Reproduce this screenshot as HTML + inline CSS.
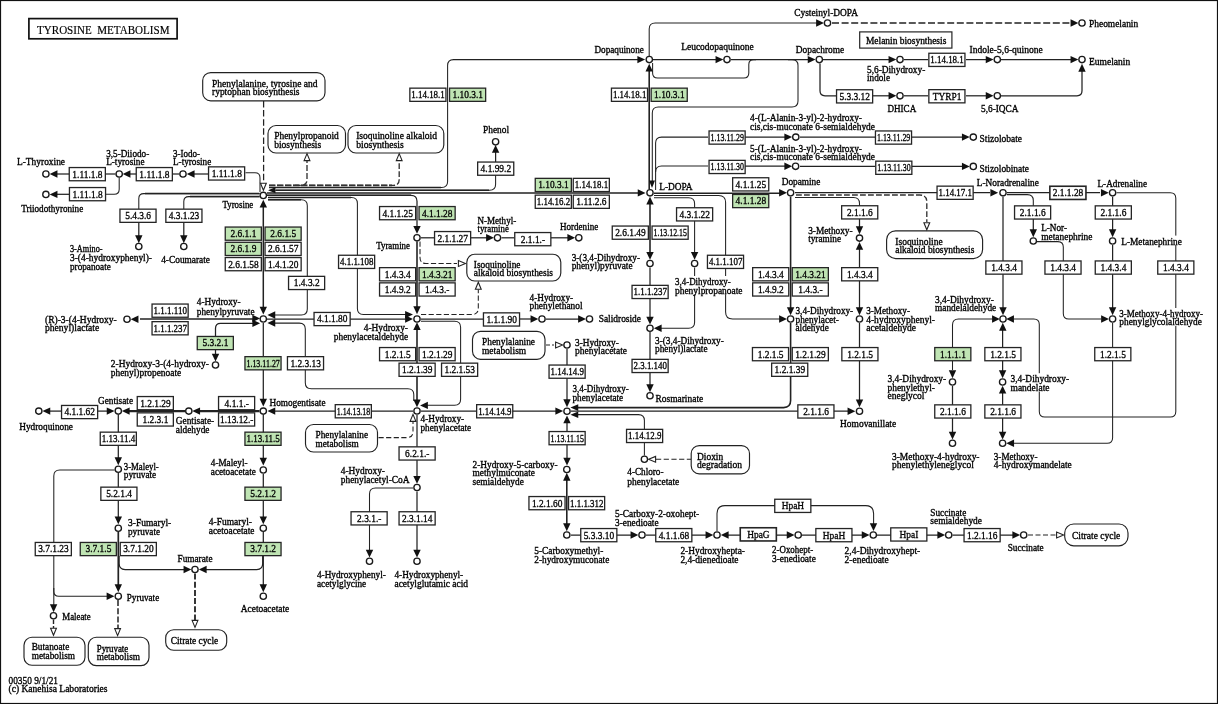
<!DOCTYPE html>
<html><head><meta charset="utf-8"><title>Tyrosine metabolism</title>
<style>html,body{margin:0;padding:0;background:#fff;}svg{display:block;}text{font-family:"Liberation Serif",serif;fill:#000;stroke:#000;stroke-width:0.34px;}</style></head><body>
<svg width="1218" height="704" viewBox="0 0 1218 704">
<rect x="0" y="0" width="1218" height="704" fill="#fff"/>
<rect x="0.5" y="0.5" width="1217" height="703" fill="none" stroke="#111" stroke-width="1.2"/>
<path d="M245.50 172.80L255.00 172.80 Q260.00 172.80 260.00 177.80L260.00 192.00" fill="none" stroke="#222" stroke-width="1.05"/>
<path d="M208.00 174.00L190.00 174.00" fill="none" stroke="#222" stroke-width="1.25"/>
<path d="M179.50 174.00L173.00 174.00" fill="none" stroke="#222" stroke-width="1.25"/>
<path d="M136.00 174.00L126.00 174.00" fill="none" stroke="#222" stroke-width="1.25"/>
<path d="M115.50 174.00L106.00 174.00" fill="none" stroke="#222" stroke-width="1.25"/>
<path d="M69.00 174.00L55.00 174.00" fill="none" stroke="#222" stroke-width="1.25"/>
<path d="M119.20 177.50L119.20 189.30 Q119.20 194.30 114.20 194.30L106.00 194.30" fill="none" stroke="#222" stroke-width="1.05"/>
<path d="M69.00 194.30L55.00 194.30" fill="none" stroke="#222" stroke-width="1.25"/>
<path d="M259.50 193.60L143.80 193.60 Q138.80 193.60 138.80 198.60L138.80 209.00" fill="none" stroke="#222" stroke-width="1.05"/>
<path d="M138.80 222.00L138.80 240.00" fill="none" stroke="#222" stroke-width="1.25"/>
<path d="M259.50 196.60L188.80 196.60 Q183.80 196.60 183.80 201.60L183.80 209.00" fill="none" stroke="#222" stroke-width="1.05"/>
<path d="M183.80 222.00L183.80 240.00" fill="none" stroke="#222" stroke-width="1.25"/>
<path d="M263.60 101.00L263.60 183.50" fill="none" stroke="#222" stroke-width="1.25" stroke-dasharray="6.5 2.6"/>
<path d="M269.00 185.40L393.20 185.40 Q399.20 185.40 399.20 179.40L399.20 161.00" fill="none" stroke="#333" stroke-width="1.35" stroke-dasharray="5.8 2.2"/>
<path d="M269.00 185.30L392.00 185.30" fill="none" stroke="#333" stroke-width="1.70" stroke-dasharray="6.5 1.5"/>
<path d="M295.00 185.40L301.00 185.40 Q307.00 185.40 307.00 179.40L307.00 161.00" fill="none" stroke="#333" stroke-width="1.35" stroke-dasharray="5.8 2.2"/>
<path d="M269.00 187.50L441.60 187.50 Q447.60 187.50 447.60 181.50L447.60 65.60 Q447.60 59.60 453.60 59.60L640.00 59.60" fill="none" stroke="#222" stroke-width="1.05"/>
<path d="M274.00 190.20L489.60 190.20 Q495.60 190.20 495.60 184.20L495.60 175.00" fill="none" stroke="#222" stroke-width="1.05"/>
<path d="M495.60 162.00L495.60 150.00" fill="none" stroke="#222" stroke-width="1.25"/>
<path d="M267.00 193.00L640.00 193.00" fill="none" stroke="#222" stroke-width="1.70"/>
<path d="M267.00 195.30L411.00 195.30 Q417.00 195.30 417.00 201.30L417.00 228.00" fill="none" stroke="#222" stroke-width="1.25"/>
<path d="M268.00 197.50L351.40 197.50 Q357.40 197.50 357.40 203.50L357.40 308.40 Q357.40 314.40 363.40 314.40L406.00 314.40" fill="none" stroke="#222" stroke-width="1.05"/>
<path d="M268.00 199.80L301.30 199.80 Q307.30 199.80 307.30 205.80L307.30 309.00 Q307.30 315.00 301.30 315.00L274.00 315.00" fill="none" stroke="#222" stroke-width="1.05"/>
<path d="M269.00 187.50L441.00 187.50" fill="none" stroke="#222" stroke-width="1.50"/>
<path d="M276.00 190.20L489.00 190.20" fill="none" stroke="#222" stroke-width="1.50"/>
<path d="M267.00 195.30L411.00 195.30" fill="none" stroke="#222" stroke-width="1.50"/>
<path d="M268.00 197.50L351.00 197.50" fill="none" stroke="#222" stroke-width="1.50"/>
<path d="M268.00 199.80L301.00 199.80" fill="none" stroke="#222" stroke-width="1.50"/>
<path d="M259.50 193.60L145.00 193.60" fill="none" stroke="#222" stroke-width="1.50"/>
<path d="M259.50 196.60L190.00 196.60" fill="none" stroke="#222" stroke-width="1.50"/>
<path d="M263.30 206.00L263.30 308.00" fill="none" stroke="#222" stroke-width="1.50"/>
<path d="M254.00 319.00L140.00 319.00" fill="none" stroke="#222" stroke-width="1.70"/>
<path d="M254.00 323.30L220.50 323.30 Q215.50 323.30 215.50 328.30L215.50 336.00" fill="none" stroke="#222" stroke-width="1.25"/>
<path d="M215.50 350.00L215.50 356.00" fill="none" stroke="#222" stroke-width="1.25"/>
<path d="M267.00 319.00L406.00 319.00" fill="none" stroke="#222" stroke-width="1.25"/>
<path d="M274.00 323.10L299.30 323.10 Q305.30 323.10 305.30 329.10L305.30 382.80 Q305.30 388.80 311.30 388.80L407.80 388.80 Q413.80 388.80 413.80 394.80L413.80 401.00" fill="none" stroke="#222" stroke-width="1.05"/>
<path d="M263.30 323.00L263.30 400.00" fill="none" stroke="#222" stroke-width="1.25"/>
<path d="M274.00 411.10L413.00 411.10" fill="none" stroke="#222" stroke-width="1.25"/>
<path d="M259.50 411.20L198.00 411.20" fill="none" stroke="#222" stroke-width="2.30"/>
<path d="M185.00 411.20L128.00 411.20" fill="none" stroke="#222" stroke-width="2.30"/>
<path d="M98.00 411.10L108.00 411.10" fill="none" stroke="#222" stroke-width="1.25"/>
<path d="M61.00 411.10L48.00 411.10" fill="none" stroke="#222" stroke-width="1.25"/>
<path d="M118.30 415.00L118.30 458.00" fill="none" stroke="#222" stroke-width="1.25"/>
<path d="M118.30 473.00L118.30 518.00" fill="none" stroke="#222" stroke-width="1.25"/>
<path d="M118.30 532.00L118.30 586.00" fill="none" stroke="#222" stroke-width="1.70"/>
<path d="M119.10 556.00L119.10 563.50 Q119.10 569.50 125.10 569.50L185.00 569.50" fill="none" stroke="#222" stroke-width="1.25"/>
<path d="M114.50 470.00L59.80 470.00 Q53.80 470.00 53.80 476.00L53.80 606.00" fill="none" stroke="#222" stroke-width="1.05"/>
<path d="M53.80 588.00L53.80 591.30 Q53.80 596.30 58.80 596.30L108.00 596.30" fill="none" stroke="#222" stroke-width="1.05"/>
<path d="M53.50 619.50L53.50 628.00" fill="none" stroke="#222" stroke-width="1.40" stroke-dasharray="4.5 2"/>
<path d="M118.00 600.00L118.00 628.50" fill="none" stroke="#222" stroke-width="1.50" stroke-dasharray="6 2.2"/>
<path d="M195.00 573.50L195.00 620.00" fill="none" stroke="#222" stroke-width="1.80" stroke-dasharray="6 2.2"/>
<path d="M263.30 415.00L263.30 459.00" fill="none" stroke="#222" stroke-width="1.25"/>
<path d="M263.30 474.00L263.30 518.00" fill="none" stroke="#222" stroke-width="1.25"/>
<path d="M263.30 532.00L263.30 586.00" fill="none" stroke="#222" stroke-width="1.25"/>
<path d="M262.70 556.00L262.70 563.50 Q262.70 569.50 256.70 569.50L205.00 569.50" fill="none" stroke="#222" stroke-width="1.25"/>
<path d="M421.00 237.80L434.00 237.80" fill="none" stroke="#222" stroke-width="1.25"/>
<path d="M471.00 237.80L488.00 237.80" fill="none" stroke="#222" stroke-width="1.25"/>
<path d="M501.50 237.80L514.00 237.80" fill="none" stroke="#222" stroke-width="1.25"/>
<path d="M551.00 237.80L568.00 237.80" fill="none" stroke="#222" stroke-width="1.25"/>
<path d="M420.00 241.50L420.00 257.50 Q420.00 263.50 426.00 263.50L457.00 263.50" fill="none" stroke="#222" stroke-width="1.05" stroke-dasharray="5.2 2.4"/>
<path d="M421.00 314.40L472.30 314.40 Q478.30 314.40 478.30 308.40L478.30 289.50" fill="none" stroke="#222" stroke-width="1.05" stroke-dasharray="5.2 2.4"/>
<path d="M417.00 241.50L417.00 308.00" fill="none" stroke="#222" stroke-width="1.60"/>
<path d="M421.00 319.00L483.00 319.00" fill="none" stroke="#222" stroke-width="1.25"/>
<path d="M520.00 319.00L532.00 319.00" fill="none" stroke="#222" stroke-width="1.25"/>
<path d="M546.00 319.00L580.00 319.00" fill="none" stroke="#222" stroke-width="1.25"/>
<path d="M417.00 330.00L417.00 400.00" fill="none" stroke="#222" stroke-width="1.60"/>
<path d="M421.00 321.30L454.60 321.30 Q460.60 321.30 460.60 327.30L460.60 399.20 Q460.60 405.20 454.60 405.20L427.00 405.20" fill="none" stroke="#222" stroke-width="1.05"/>
<path d="M378.50 437.60L407.00 437.60 Q413.00 437.60 413.00 431.60L413.00 421.50" fill="none" stroke="#222" stroke-width="1.05" stroke-dasharray="5.2 2.4"/>
<path d="M421.00 411.00L556.00 411.00" fill="none" stroke="#222" stroke-width="1.25"/>
<path d="M417.00 415.00L417.00 477.00" fill="none" stroke="#222" stroke-width="1.25"/>
<path d="M417.00 491.50L417.00 551.00" fill="none" stroke="#222" stroke-width="1.25"/>
<path d="M413.00 488.00L375.50 488.00 Q369.50 488.00 369.50 494.00L369.50 551.00" fill="none" stroke="#222" stroke-width="1.05"/>
<path d="M546.00 345.00L554.00 345.00" fill="none" stroke="#222" stroke-width="1.20" stroke-dasharray="4 2"/>
<path d="M567.00 349.00L567.00 400.00" fill="none" stroke="#222" stroke-width="1.25"/>
<path d="M790.60 323.00L790.60 400.60 Q790.60 407.60 783.60 407.60L578.00 407.60" fill="none" stroke="#222" stroke-width="1.60"/>
<path d="M571.00 411.20L848.00 411.20" fill="none" stroke="#222" stroke-width="1.25"/>
<path d="M578.00 414.60L638.40 414.60 Q644.40 414.60 644.40 420.60L644.40 455.50" fill="none" stroke="#222" stroke-width="1.05"/>
<path d="M656.00 459.30L691.00 459.30" fill="none" stroke="#222" stroke-width="1.05" stroke-dasharray="5.2 2.5"/>
<path d="M567.00 423.00L567.00 458.00" fill="none" stroke="#222" stroke-width="1.25"/>
<path d="M566.80 480.00L566.80 524.00" fill="none" stroke="#222" stroke-width="1.60"/>
<path d="M571.00 535.00L632.00 535.00" fill="none" stroke="#222" stroke-width="1.25"/>
<path d="M646.00 535.00L707.00 535.00" fill="none" stroke="#222" stroke-width="1.25"/>
<path d="M727.00 535.00L788.00 535.00" fill="none" stroke="#222" stroke-width="1.25"/>
<path d="M802.00 535.00L863.00 535.00" fill="none" stroke="#222" stroke-width="1.25"/>
<path d="M717.00 531.00L717.00 513.60 Q717.00 505.60 725.00 505.60L865.60 505.60 Q873.60 505.60 873.60 513.60L873.60 524.00" fill="none" stroke="#222" stroke-width="1.05"/>
<path d="M877.00 535.00L939.00 535.00" fill="none" stroke="#222" stroke-width="1.25"/>
<path d="M952.50 535.00L1013.00 535.00" fill="none" stroke="#222" stroke-width="1.25"/>
<path d="M1028.00 535.00L1056.00 535.00" fill="none" stroke="#222" stroke-width="1.20" stroke-dasharray="5 2.5"/>
<path d="M649.20 189.00L649.20 70.00" fill="none" stroke="#222" stroke-width="1.60"/>
<path d="M653.00 59.60L716.00 59.60" fill="none" stroke="#222" stroke-width="1.25"/>
<path d="M731.00 59.60L808.00 59.60" fill="none" stroke="#222" stroke-width="1.25"/>
<path d="M823.00 59.60L889.00 59.60" fill="none" stroke="#222" stroke-width="1.25"/>
<path d="M904.00 59.60L928.00 59.60" fill="none" stroke="#222" stroke-width="1.25"/>
<path d="M966.00 59.60L986.00 59.60" fill="none" stroke="#222" stroke-width="1.25"/>
<path d="M1001.00 59.60L1071.00 59.60" fill="none" stroke="#222" stroke-width="1.25"/>
<path d="M649.20 56.00L649.20 29.00 Q649.20 23.00 655.20 23.00L817.00 23.00" fill="none" stroke="#222" stroke-width="1.05"/>
<path d="M832.00 23.00L1071.00 23.00" fill="none" stroke="#222" stroke-width="1.30" stroke-dasharray="7 2.6"/>
<path d="M652.60 63.00L652.60 73.00 Q652.60 78.00 657.60 78.00L743.80 78.00 Q748.80 78.00 748.80 73.00L748.80 64.60 Q748.80 59.60 753.80 59.60L756.00 59.60" fill="none" stroke="#222" stroke-width="1.05"/>
<path d="M788.00 59.60L792.00 59.60 Q798.00 59.60 798.00 65.60L798.00 101.00 Q798.00 107.00 792.00 107.00L658.30 107.00 Q652.30 107.00 652.30 113.00L652.30 181.00" fill="none" stroke="#222" stroke-width="1.05"/>
<path d="M820.00 63.50L820.00 90.80 Q820.00 95.80 825.00 95.80L836.00 95.80" fill="none" stroke="#222" stroke-width="1.25"/>
<path d="M873.00 95.80L889.00 95.80" fill="none" stroke="#222" stroke-width="1.25"/>
<path d="M904.00 95.80L928.00 95.80" fill="none" stroke="#222" stroke-width="1.25"/>
<path d="M966.00 95.80L986.00 95.80" fill="none" stroke="#222" stroke-width="1.25"/>
<path d="M1001.00 95.80L1077.00 95.80 Q1082.00 95.80 1082.00 90.80L1082.00 71.00" fill="none" stroke="#222" stroke-width="1.25"/>
<path d="M655.60 190.00L655.60 143.10 Q655.60 137.10 661.60 137.10L708.00 137.10" fill="none" stroke="#222" stroke-width="1.05"/>
<path d="M655.60 172.00L655.60 172.00 Q655.60 166.00 661.60 166.00L708.00 166.00" fill="none" stroke="#222" stroke-width="1.05"/>
<path d="M745.00 137.10L785.00 137.10" fill="none" stroke="#222" stroke-width="1.25"/>
<path d="M800.00 137.10L875.00 137.10" fill="none" stroke="#222" stroke-width="1.25"/>
<path d="M912.00 137.10L962.00 137.10" fill="none" stroke="#222" stroke-width="1.25"/>
<path d="M745.00 166.20L785.00 166.20" fill="none" stroke="#222" stroke-width="1.25"/>
<path d="M800.00 166.30L875.00 166.30" fill="none" stroke="#222" stroke-width="1.25"/>
<path d="M912.00 166.30L962.00 166.30" fill="none" stroke="#222" stroke-width="1.25"/>
<path d="M654.00 193.20L780.00 193.20" fill="none" stroke="#222" stroke-width="1.60"/>
<path d="M654.00 195.40L718.60 195.40 Q725.60 195.40 725.60 202.40L725.60 312.00 Q725.60 319.00 732.60 319.00L780.00 319.00" fill="none" stroke="#222" stroke-width="1.05"/>
<path d="M654.00 197.80L688.60 197.80 Q694.60 197.80 694.60 203.80L694.60 253.00" fill="none" stroke="#222" stroke-width="1.05"/>
<path d="M694.60 267.50L694.60 322.20 Q694.60 328.20 688.60 328.20L661.00 328.20" fill="none" stroke="#222" stroke-width="1.05"/>
<path d="M650.00 204.00L650.00 252.00" fill="none" stroke="#222" stroke-width="1.60"/>
<path d="M650.00 267.50L650.00 317.00" fill="none" stroke="#222" stroke-width="1.25"/>
<path d="M650.00 332.00L650.00 385.00" fill="none" stroke="#222" stroke-width="1.25"/>
<path d="M790.60 197.00L790.60 308.00" fill="none" stroke="#222" stroke-width="1.60"/>
<path d="M795.00 192.50L990.00 192.50" fill="none" stroke="#222" stroke-width="1.25"/>
<path d="M796.00 195.00L919.80 195.00 Q926.80 195.00 926.80 202.00L926.80 222.00" fill="none" stroke="#333" stroke-width="1.35" stroke-dasharray="5.8 2.2"/>
<path d="M795.00 197.40L853.50 197.40 Q859.50 197.40 859.50 203.40L859.50 206.00" fill="none" stroke="#222" stroke-width="1.05"/>
<path d="M859.50 219.00L859.50 227.00" fill="none" stroke="#222" stroke-width="1.25"/>
<path d="M859.50 249.00L859.50 308.00" fill="none" stroke="#222" stroke-width="1.25"/>
<path d="M859.50 323.00L859.50 400.00" fill="none" stroke="#222" stroke-width="1.25"/>
<path d="M1007.00 192.60L1100.00 192.60" fill="none" stroke="#222" stroke-width="1.40"/>
<path d="M1007.00 194.60L1027.30 194.60 Q1033.30 194.60 1033.30 200.60L1033.30 206.00" fill="none" stroke="#222" stroke-width="1.05"/>
<path d="M1033.30 219.00L1033.30 230.00" fill="none" stroke="#222" stroke-width="1.25"/>
<path d="M1037.00 241.60L1057.80 241.60 Q1063.30 241.60 1063.30 247.10L1063.30 313.50 Q1063.30 319.00 1068.80 319.00L1101.00 319.00" fill="none" stroke="#222" stroke-width="1.05"/>
<path d="M1112.60 197.00L1112.60 230.00" fill="none" stroke="#222" stroke-width="1.25"/>
<path d="M1112.60 245.00L1112.60 308.00" fill="none" stroke="#222" stroke-width="1.25"/>
<path d="M1112.60 323.00L1112.60 437.80 Q1112.60 443.30 1107.10 443.30L1013.00 443.30" fill="none" stroke="#222" stroke-width="1.05"/>
<path d="M1116.50 192.80L1170.30 192.80 Q1175.80 192.80 1175.80 198.30L1175.80 411.50 Q1175.80 417.00 1170.30 417.00L1044.80 417.00 Q1039.30 417.00 1039.30 411.50L1039.30 324.50 Q1039.30 319.00 1033.80 319.00L1014.00 319.00" fill="none" stroke="#222" stroke-width="1.05"/>
<path d="M1003.00 197.00L1003.00 308.00" fill="none" stroke="#222" stroke-width="1.25"/>
<path d="M992.00 319.00L958.50 319.00 Q952.50 319.00 952.50 325.00L952.50 370.00" fill="none" stroke="#222" stroke-width="1.05"/>
<path d="M952.50 386.00L952.50 432.00" fill="none" stroke="#222" stroke-width="1.25"/>
<path d="M1002.60 330.00L1002.60 371.00" fill="none" stroke="#222" stroke-width="1.25"/>
<path d="M1002.60 393.00L1002.60 432.00" fill="none" stroke="#222" stroke-width="1.25"/>
<rect x="16.60" y="155.70" width="48.80" height="9.5" fill="#fff"/>
<rect x="105.80" y="147.80" width="43.80" height="9.5" fill="#fff"/>
<rect x="105.80" y="156.50" width="39.10" height="9.5" fill="#fff"/>
<rect x="172.60" y="147.80" width="27.80" height="9.5" fill="#fff"/>
<rect x="172.60" y="156.50" width="39.00" height="9.5" fill="#fff"/>
<rect x="20.80" y="203.20" width="62.80" height="9.5" fill="#fff"/>
<rect x="222.10" y="199.00" width="31.50" height="9.5" fill="#fff"/>
<rect x="69.60" y="242.80" width="33.30" height="9.5" fill="#fff"/>
<rect x="69.60" y="252.00" width="82.80" height="9.5" fill="#fff"/>
<rect x="69.60" y="260.80" width="41.60" height="9.5" fill="#fff"/>
<rect x="160.80" y="253.80" width="49.60" height="9.5" fill="#fff"/>
<rect x="211.60" y="77.70" width="106.30" height="9.5" fill="#fff"/>
<rect x="211.60" y="86.30" width="88.30" height="9.5" fill="#fff"/>
<rect x="273.80" y="130.30" width="65.40" height="9.5" fill="#fff"/>
<rect x="273.80" y="139.40" width="47.80" height="9.5" fill="#fff"/>
<rect x="355.80" y="130.30" width="81.60" height="9.5" fill="#fff"/>
<rect x="355.80" y="139.40" width="48.40" height="9.5" fill="#fff"/>
<rect x="482.60" y="124.50" width="26.80" height="9.5" fill="#fff"/>
<rect x="196.40" y="296.30" width="44.50" height="9.5" fill="#fff"/>
<rect x="196.40" y="305.60" width="58.50" height="9.5" fill="#fff"/>
<rect x="44.60" y="313.80" width="72.60" height="9.5" fill="#fff"/>
<rect x="44.60" y="322.50" width="55.00" height="9.5" fill="#fff"/>
<rect x="110.40" y="358.30" width="98.80" height="9.5" fill="#fff"/>
<rect x="110.40" y="367.00" width="71.20" height="9.5" fill="#fff"/>
<rect x="269.10" y="396.60" width="56.80" height="9.5" fill="#fff"/>
<rect x="97.60" y="395.00" width="35.80" height="9.5" fill="#fff"/>
<rect x="18.80" y="420.70" width="54.60" height="9.5" fill="#fff"/>
<rect x="175.40" y="415.30" width="39.20" height="9.5" fill="#fff"/>
<rect x="175.40" y="424.40" width="34.50" height="9.5" fill="#fff"/>
<rect x="123.40" y="460.70" width="35.80" height="9.5" fill="#fff"/>
<rect x="123.40" y="469.50" width="33.20" height="9.5" fill="#fff"/>
<rect x="127.60" y="517.00" width="44.00" height="9.5" fill="#fff"/>
<rect x="127.60" y="526.20" width="32.80" height="9.5" fill="#fff"/>
<rect x="126.40" y="592.00" width="33.20" height="9.5" fill="#fff"/>
<rect x="177.10" y="552.70" width="35.80" height="9.5" fill="#fff"/>
<rect x="61.90" y="611.00" width="29.20" height="9.5" fill="#fff"/>
<rect x="31.30" y="641.00" width="38.40" height="9.5" fill="#fff"/>
<rect x="31.30" y="650.20" width="44.10" height="9.5" fill="#fff"/>
<rect x="96.30" y="642.60" width="32.40" height="9.5" fill="#fff"/>
<rect x="96.30" y="651.00" width="44.10" height="9.5" fill="#fff"/>
<rect x="170.30" y="635.00" width="48.40" height="9.5" fill="#fff"/>
<rect x="210.40" y="457.00" width="37.50" height="9.5" fill="#fff"/>
<rect x="210.40" y="465.70" width="45.80" height="9.5" fill="#fff"/>
<rect x="208.40" y="515.70" width="44.00" height="9.5" fill="#fff"/>
<rect x="208.40" y="525.00" width="46.50" height="9.5" fill="#fff"/>
<rect x="240.40" y="603.20" width="49.20" height="9.5" fill="#fff"/>
<rect x="8.10" y="683.50" width="99.80" height="9.5" fill="#fff"/>
<rect x="375.80" y="240.00" width="34.60" height="9.5" fill="#fff"/>
<rect x="477.10" y="215.40" width="39.50" height="9.5" fill="#fff"/>
<rect x="477.10" y="223.00" width="32.10" height="9.5" fill="#fff"/>
<rect x="559.60" y="220.80" width="39.00" height="9.5" fill="#fff"/>
<rect x="473.40" y="258.70" width="47.50" height="9.5" fill="#fff"/>
<rect x="473.40" y="267.20" width="80.00" height="9.5" fill="#fff"/>
<rect x="363.40" y="322.10" width="45.00" height="9.5" fill="#fff"/>
<rect x="333.40" y="331.20" width="75.20" height="9.5" fill="#fff"/>
<rect x="529.10" y="292.20" width="44.50" height="9.5" fill="#fff"/>
<rect x="529.10" y="300.50" width="53.80" height="9.5" fill="#fff"/>
<rect x="598.30" y="313.00" width="43.10" height="9.5" fill="#fff"/>
<rect x="420.10" y="413.20" width="44.50" height="9.5" fill="#fff"/>
<rect x="420.10" y="422.40" width="51.50" height="9.5" fill="#fff"/>
<rect x="315.10" y="429.50" width="53.30" height="9.5" fill="#fff"/>
<rect x="315.10" y="438.20" width="44.10" height="9.5" fill="#fff"/>
<rect x="340.40" y="465.20" width="45.00" height="9.5" fill="#fff"/>
<rect x="340.40" y="474.00" width="69.50" height="9.5" fill="#fff"/>
<rect x="316.60" y="569.50" width="69.60" height="9.5" fill="#fff"/>
<rect x="316.60" y="578.20" width="50.00" height="9.5" fill="#fff"/>
<rect x="394.10" y="569.50" width="69.50" height="9.5" fill="#fff"/>
<rect x="394.10" y="578.20" width="74.30" height="9.5" fill="#fff"/>
<rect x="481.60" y="335.70" width="53.80" height="9.5" fill="#fff"/>
<rect x="481.60" y="345.00" width="45.00" height="9.5" fill="#fff"/>
<rect x="574.60" y="337.00" width="44.60" height="9.5" fill="#fff"/>
<rect x="574.60" y="345.20" width="52.80" height="9.5" fill="#fff"/>
<rect x="572.10" y="383.20" width="57.10" height="9.5" fill="#fff"/>
<rect x="572.10" y="392.00" width="51.50" height="9.5" fill="#fff"/>
<rect x="696.60" y="450.70" width="27.00" height="9.5" fill="#fff"/>
<rect x="696.60" y="459.00" width="45.80" height="9.5" fill="#fff"/>
<rect x="626.90" y="466.50" width="37.00" height="9.5" fill="#fff"/>
<rect x="626.90" y="476.00" width="52.80" height="9.5" fill="#fff"/>
<rect x="472.10" y="458.70" width="85.80" height="9.5" fill="#fff"/>
<rect x="472.10" y="467.50" width="63.30" height="9.5" fill="#fff"/>
<rect x="472.10" y="476.30" width="52.10" height="9.5" fill="#fff"/>
<rect x="533.90" y="545.50" width="69.80" height="9.5" fill="#fff"/>
<rect x="533.90" y="554.20" width="75.80" height="9.5" fill="#fff"/>
<rect x="614.60" y="508.40" width="85.00" height="9.5" fill="#fff"/>
<rect x="614.60" y="517.00" width="44.40" height="9.5" fill="#fff"/>
<rect x="680.00" y="545.50" width="65.40" height="9.5" fill="#fff"/>
<rect x="680.00" y="554.20" width="58.90" height="9.5" fill="#fff"/>
<rect x="771.60" y="544.00" width="42.00" height="9.5" fill="#fff"/>
<rect x="771.60" y="552.80" width="44.60" height="9.5" fill="#fff"/>
<rect x="844.20" y="545.50" width="76.50" height="9.5" fill="#fff"/>
<rect x="844.20" y="554.20" width="44.90" height="9.5" fill="#fff"/>
<rect x="929.90" y="506.70" width="36.80" height="9.5" fill="#fff"/>
<rect x="929.90" y="515.00" width="52.50" height="9.5" fill="#fff"/>
<rect x="1007.30" y="541.70" width="36.80" height="9.5" fill="#fff"/>
<rect x="1071.60" y="530.30" width="49.10" height="9.5" fill="#fff"/>
<rect x="594.10" y="44.50" width="50.10" height="9.5" fill="#fff"/>
<rect x="680.80" y="41.50" width="73.40" height="9.5" fill="#fff"/>
<rect x="795.40" y="44.50" width="49.20" height="9.5" fill="#fff"/>
<rect x="866.60" y="64.50" width="59.10" height="9.5" fill="#fff"/>
<rect x="866.60" y="72.50" width="23.80" height="9.5" fill="#fff"/>
<rect x="969.10" y="44.50" width="74.10" height="9.5" fill="#fff"/>
<rect x="1088.60" y="55.70" width="42.00" height="9.5" fill="#fff"/>
<rect x="793.80" y="7.00" width="64.60" height="9.5" fill="#fff"/>
<rect x="1088.60" y="17.80" width="50.00" height="9.5" fill="#fff"/>
<rect x="865.60" y="35.20" width="81.10" height="9.5" fill="#fff"/>
<rect x="887.10" y="102.70" width="29.50" height="9.5" fill="#fff"/>
<rect x="980.60" y="102.70" width="38.30" height="9.5" fill="#fff"/>
<rect x="749.60" y="112.00" width="112.80" height="9.5" fill="#fff"/>
<rect x="749.60" y="121.20" width="125.80" height="9.5" fill="#fff"/>
<rect x="749.60" y="142.70" width="112.80" height="9.5" fill="#fff"/>
<rect x="749.60" y="151.50" width="125.80" height="9.5" fill="#fff"/>
<rect x="979.10" y="133.20" width="43.30" height="9.5" fill="#fff"/>
<rect x="979.10" y="162.70" width="50.30" height="9.5" fill="#fff"/>
<rect x="658.80" y="181.20" width="34.20" height="9.5" fill="#fff"/>
<rect x="674.60" y="276.00" width="56.60" height="9.5" fill="#fff"/>
<rect x="674.60" y="284.70" width="68.30" height="9.5" fill="#fff"/>
<rect x="571.30" y="252.00" width="69.10" height="9.5" fill="#fff"/>
<rect x="571.30" y="260.20" width="61.70" height="9.5" fill="#fff"/>
<rect x="654.60" y="335.00" width="69.60" height="9.5" fill="#fff"/>
<rect x="654.60" y="342.60" width="53.30" height="9.5" fill="#fff"/>
<rect x="655.10" y="393.20" width="48.50" height="9.5" fill="#fff"/>
<rect x="781.30" y="176.40" width="39.50" height="9.5" fill="#fff"/>
<rect x="795.10" y="305.50" width="58.50" height="9.5" fill="#fff"/>
<rect x="795.10" y="313.70" width="44.10" height="9.5" fill="#fff"/>
<rect x="795.10" y="322.20" width="34.10" height="9.5" fill="#fff"/>
<rect x="894.90" y="235.60" width="48.20" height="9.5" fill="#fff"/>
<rect x="894.90" y="244.00" width="79.80" height="9.5" fill="#fff"/>
<rect x="807.80" y="224.60" width="45.20" height="9.5" fill="#fff"/>
<rect x="807.80" y="233.00" width="33.60" height="9.5" fill="#fff"/>
<rect x="865.80" y="305.50" width="44.60" height="9.5" fill="#fff"/>
<rect x="865.80" y="313.70" width="69.60" height="9.5" fill="#fff"/>
<rect x="865.80" y="322.20" width="50.60" height="9.5" fill="#fff"/>
<rect x="839.60" y="418.20" width="57.00" height="9.5" fill="#fff"/>
<rect x="976.40" y="176.70" width="62.80" height="9.5" fill="#fff"/>
<rect x="1097.10" y="178.00" width="50.30" height="9.5" fill="#fff"/>
<rect x="1040.80" y="222.50" width="26.60" height="9.5" fill="#fff"/>
<rect x="1040.80" y="230.60" width="52.10" height="9.5" fill="#fff"/>
<rect x="1120.80" y="235.60" width="61.40" height="9.5" fill="#fff"/>
<rect x="1118.90" y="308.00" width="84.50" height="9.5" fill="#fff"/>
<rect x="1118.90" y="316.30" width="83.30" height="9.5" fill="#fff"/>
<rect x="934.60" y="294.20" width="59.60" height="9.5" fill="#fff"/>
<rect x="934.60" y="302.30" width="62.00" height="9.5" fill="#fff"/>
<rect x="887.10" y="373.20" width="59.50" height="9.5" fill="#fff"/>
<rect x="887.10" y="382.00" width="48.30" height="9.5" fill="#fff"/>
<rect x="887.10" y="390.30" width="37.80" height="9.5" fill="#fff"/>
<rect x="891.60" y="450.70" width="88.30" height="9.5" fill="#fff"/>
<rect x="891.60" y="459.50" width="82.60" height="9.5" fill="#fff"/>
<rect x="1010.10" y="373.20" width="59.50" height="9.5" fill="#fff"/>
<rect x="1010.10" y="382.00" width="39.80" height="9.5" fill="#fff"/>
<rect x="993.40" y="450.70" width="44.50" height="9.5" fill="#fff"/>
<rect x="993.40" y="459.50" width="78.80" height="9.5" fill="#fff"/>
<rect x="202.70" y="72.60" width="122.30" height="28.20" rx="8.0" ry="8.0" fill="#fff" stroke="#222" stroke-width="1.15"/>
<rect x="268.00" y="125.50" width="77.50" height="27.50" rx="8.0" ry="8.0" fill="#fff" stroke="#222" stroke-width="1.15"/>
<rect x="348.00" y="125.50" width="95.80" height="27.50" rx="8.0" ry="8.0" fill="#fff" stroke="#222" stroke-width="1.15"/>
<rect x="24.00" y="637.20" width="61.00" height="28.00" rx="8.0" ry="8.0" fill="#fff" stroke="#222" stroke-width="1.15"/>
<rect x="88.30" y="637.20" width="60.70" height="28.40" rx="8.0" ry="8.0" fill="#fff" stroke="#222" stroke-width="1.15"/>
<rect x="165.70" y="629.70" width="61.00" height="20.50" rx="8.0" ry="8.0" fill="#fff" stroke="#222" stroke-width="1.15"/>
<rect x="466.80" y="254.20" width="94.00" height="26.80" rx="8.0" ry="8.0" fill="#fff" stroke="#222" stroke-width="1.15"/>
<rect x="305.50" y="424.50" width="72.00" height="27.50" rx="8.0" ry="8.0" fill="#fff" stroke="#222" stroke-width="1.15"/>
<rect x="472.50" y="331.30" width="72.50" height="28.00" rx="8.0" ry="8.0" fill="#fff" stroke="#222" stroke-width="1.15"/>
<rect x="691.20" y="445.60" width="58.30" height="28.20" rx="8.0" ry="8.0" fill="#fff" stroke="#222" stroke-width="1.15"/>
<rect x="1064.70" y="524.00" width="63.30" height="21.80" rx="9.0" ry="9.0" fill="#fff" stroke="#222" stroke-width="1.15"/>
<rect x="886.60" y="230.80" width="96.00" height="27.80" rx="9.0" ry="9.0" fill="#fff" stroke="#222" stroke-width="1.15"/>
<rect x="28.9" y="18.6" width="148.2" height="20.2" fill="#fff" stroke="#111" stroke-width="1.7"/>
<rect x="69.25" y="167.55" width="36.10" height="13.20" fill="#fff" stroke="#252525" stroke-width="1.30"/>
<rect x="136.25" y="167.55" width="36.10" height="13.20" fill="#fff" stroke="#252525" stroke-width="1.30"/>
<rect x="208.55" y="166.85" width="36.10" height="13.20" fill="#fff" stroke="#252525" stroke-width="1.30"/>
<rect x="69.45" y="187.55" width="36.10" height="13.20" fill="#fff" stroke="#252525" stroke-width="1.30"/>
<rect x="119.95" y="209.15" width="36.10" height="13.20" fill="#fff" stroke="#252525" stroke-width="1.30"/>
<rect x="165.85" y="209.15" width="36.10" height="13.20" fill="#fff" stroke="#252525" stroke-width="1.30"/>
<rect x="409.85" y="88.15" width="36.10" height="13.20" fill="#fff" stroke="#252525" stroke-width="1.30"/>
<rect x="449.55" y="88.15" width="36.10" height="13.20" fill="#bfe4b3" stroke="#252525" stroke-width="1.30"/>
<rect x="477.65" y="162.05" width="36.10" height="13.20" fill="#fff" stroke="#252525" stroke-width="1.30"/>
<rect x="535.25" y="178.35" width="36.10" height="13.20" fill="#bfe4b3" stroke="#252525" stroke-width="1.30"/>
<rect x="573.25" y="178.35" width="36.10" height="13.20" fill="#fff" stroke="#252525" stroke-width="1.30"/>
<rect x="535.25" y="195.15" width="36.10" height="13.20" fill="#fff" stroke="#252525" stroke-width="1.30"/>
<rect x="573.25" y="195.15" width="36.10" height="13.20" fill="#fff" stroke="#252525" stroke-width="1.30"/>
<rect x="379.55" y="206.55" width="36.10" height="13.20" fill="#fff" stroke="#252525" stroke-width="1.30"/>
<rect x="419.05" y="206.55" width="36.10" height="13.20" fill="#bfe4b3" stroke="#252525" stroke-width="1.30"/>
<rect x="338.55" y="255.25" width="36.10" height="13.20" fill="#fff" stroke="#252525" stroke-width="1.30"/>
<rect x="288.55" y="276.35" width="36.10" height="13.20" fill="#fff" stroke="#252525" stroke-width="1.30"/>
<rect x="225.25" y="227.05" width="36.10" height="13.20" fill="#bfe4b3" stroke="#252525" stroke-width="1.30"/>
<rect x="265.05" y="227.05" width="36.10" height="13.20" fill="#bfe4b3" stroke="#252525" stroke-width="1.30"/>
<rect x="225.25" y="242.30" width="36.10" height="13.20" fill="#bfe4b3" stroke="#252525" stroke-width="1.30"/>
<rect x="265.05" y="242.30" width="36.10" height="13.20" fill="#fff" stroke="#252525" stroke-width="1.30"/>
<rect x="225.25" y="257.55" width="36.10" height="13.20" fill="#fff" stroke="#252525" stroke-width="1.30"/>
<rect x="265.05" y="257.55" width="36.10" height="13.20" fill="#fff" stroke="#252525" stroke-width="1.30"/>
<rect x="152.05" y="304.05" width="36.10" height="13.20" fill="#fff" stroke="#252525" stroke-width="1.30"/>
<rect x="152.05" y="321.65" width="36.10" height="13.20" fill="#fff" stroke="#252525" stroke-width="1.30"/>
<rect x="197.25" y="336.45" width="36.10" height="13.20" fill="#bfe4b3" stroke="#252525" stroke-width="1.30"/>
<rect x="314.05" y="312.45" width="36.10" height="13.20" fill="#fff" stroke="#252525" stroke-width="1.30"/>
<rect x="287.45" y="356.65" width="36.10" height="13.20" fill="#fff" stroke="#252525" stroke-width="1.30"/>
<rect x="244.95" y="356.65" width="36.10" height="13.20" fill="#bfe4b3" stroke="#252525" stroke-width="1.30"/>
<rect x="335.25" y="404.65" width="36.10" height="13.20" fill="#fff" stroke="#252525" stroke-width="1.30"/>
<rect x="218.55" y="396.55" width="36.10" height="13.20" fill="#fff" stroke="#252525" stroke-width="1.30"/>
<rect x="218.55" y="412.85" width="36.10" height="13.20" fill="#fff" stroke="#252525" stroke-width="1.30"/>
<rect x="137.25" y="396.55" width="36.10" height="13.20" fill="#fff" stroke="#252525" stroke-width="1.30"/>
<rect x="137.25" y="412.85" width="36.10" height="13.20" fill="#fff" stroke="#252525" stroke-width="1.30"/>
<rect x="61.55" y="405.45" width="36.10" height="13.20" fill="#fff" stroke="#252525" stroke-width="1.30"/>
<rect x="100.25" y="432.15" width="36.10" height="13.20" fill="#fff" stroke="#252525" stroke-width="1.30"/>
<rect x="100.85" y="487.15" width="36.10" height="13.20" fill="#fff" stroke="#252525" stroke-width="1.30"/>
<rect x="80.25" y="542.45" width="36.10" height="13.20" fill="#bfe4b3" stroke="#252525" stroke-width="1.30"/>
<rect x="120.25" y="542.45" width="36.10" height="13.20" fill="#fff" stroke="#252525" stroke-width="1.30"/>
<rect x="35.25" y="542.45" width="36.10" height="13.20" fill="#fff" stroke="#252525" stroke-width="1.30"/>
<rect x="244.95" y="432.15" width="36.10" height="13.20" fill="#bfe4b3" stroke="#252525" stroke-width="1.30"/>
<rect x="244.95" y="487.15" width="36.10" height="13.20" fill="#bfe4b3" stroke="#252525" stroke-width="1.30"/>
<rect x="244.95" y="542.45" width="36.10" height="13.20" fill="#bfe4b3" stroke="#252525" stroke-width="1.30"/>
<rect x="434.55" y="231.55" width="36.10" height="13.20" fill="#fff" stroke="#252525" stroke-width="1.30"/>
<rect x="514.75" y="232.55" width="36.10" height="13.20" fill="#fff" stroke="#252525" stroke-width="1.30"/>
<rect x="379.55" y="267.65" width="36.10" height="13.20" fill="#fff" stroke="#252525" stroke-width="1.30"/>
<rect x="419.05" y="267.65" width="36.10" height="13.20" fill="#bfe4b3" stroke="#252525" stroke-width="1.30"/>
<rect x="379.55" y="282.85" width="36.10" height="13.20" fill="#fff" stroke="#252525" stroke-width="1.30"/>
<rect x="419.05" y="282.85" width="36.10" height="13.20" fill="#fff" stroke="#252525" stroke-width="1.30"/>
<rect x="483.45" y="312.85" width="36.10" height="13.20" fill="#fff" stroke="#252525" stroke-width="1.30"/>
<rect x="379.55" y="347.55" width="36.10" height="13.20" fill="#fff" stroke="#252525" stroke-width="1.30"/>
<rect x="419.05" y="347.55" width="36.10" height="13.20" fill="#fff" stroke="#252525" stroke-width="1.30"/>
<rect x="399.05" y="363.15" width="36.10" height="13.20" fill="#fff" stroke="#252525" stroke-width="1.30"/>
<rect x="441.55" y="363.15" width="36.10" height="13.20" fill="#fff" stroke="#252525" stroke-width="1.30"/>
<rect x="476.65" y="404.65" width="36.10" height="13.20" fill="#fff" stroke="#252525" stroke-width="1.30"/>
<rect x="399.05" y="446.85" width="36.10" height="13.20" fill="#fff" stroke="#252525" stroke-width="1.30"/>
<rect x="351.05" y="511.75" width="36.10" height="13.20" fill="#fff" stroke="#252525" stroke-width="1.30"/>
<rect x="399.05" y="511.75" width="36.10" height="13.20" fill="#fff" stroke="#252525" stroke-width="1.30"/>
<rect x="549.05" y="365.05" width="36.10" height="13.20" fill="#fff" stroke="#252525" stroke-width="1.30"/>
<rect x="797.85" y="404.85" width="36.10" height="13.20" fill="#fff" stroke="#252525" stroke-width="1.30"/>
<rect x="626.55" y="429.35" width="36.10" height="13.20" fill="#fff" stroke="#252525" stroke-width="1.30"/>
<rect x="549.05" y="431.55" width="36.10" height="13.20" fill="#fff" stroke="#252525" stroke-width="1.30"/>
<rect x="528.95" y="496.55" width="36.10" height="13.20" fill="#fff" stroke="#252525" stroke-width="1.30"/>
<rect x="568.55" y="496.55" width="36.10" height="13.20" fill="#fff" stroke="#252525" stroke-width="1.30"/>
<rect x="580.75" y="528.55" width="36.10" height="13.20" fill="#fff" stroke="#252525" stroke-width="1.30"/>
<rect x="655.75" y="528.55" width="36.10" height="13.20" fill="#fff" stroke="#252525" stroke-width="1.30"/>
<rect x="740.25" y="527.75" width="36.10" height="13.20" fill="#fff" stroke="#252525" stroke-width="1.60"/>
<rect x="815.85" y="528.55" width="36.10" height="13.20" fill="#fff" stroke="#252525" stroke-width="1.30"/>
<rect x="774.75" y="499.25" width="36.10" height="13.20" fill="#fff" stroke="#252525" stroke-width="1.30"/>
<rect x="890.75" y="527.85" width="36.10" height="13.20" fill="#fff" stroke="#252525" stroke-width="1.30"/>
<rect x="964.05" y="528.55" width="36.10" height="13.20" fill="#fff" stroke="#252525" stroke-width="1.30"/>
<rect x="611.45" y="88.15" width="36.10" height="13.20" fill="#fff" stroke="#252525" stroke-width="1.30"/>
<rect x="651.15" y="88.15" width="36.10" height="13.20" fill="#bfe4b3" stroke="#252525" stroke-width="1.30"/>
<rect x="928.85" y="53.25" width="36.10" height="13.20" fill="#fff" stroke="#252525" stroke-width="1.30"/>
<rect x="859.7" y="31.9" width="92.2" height="16.2" fill="#fff" stroke="#252525" stroke-width="1.2"/>
<rect x="836.55" y="89.75" width="36.10" height="13.20" fill="#fff" stroke="#252525" stroke-width="1.30"/>
<rect x="928.85" y="89.65" width="36.10" height="13.20" fill="#fff" stroke="#252525" stroke-width="1.30"/>
<rect x="709.05" y="130.95" width="36.10" height="13.20" fill="#fff" stroke="#252525" stroke-width="1.30"/>
<rect x="709.05" y="160.35" width="36.10" height="13.20" fill="#fff" stroke="#252525" stroke-width="1.30"/>
<rect x="875.45" y="130.95" width="36.10" height="13.20" fill="#fff" stroke="#252525" stroke-width="1.30"/>
<rect x="875.75" y="161.15" width="36.10" height="13.20" fill="#fff" stroke="#252525" stroke-width="1.30"/>
<rect x="732.65" y="177.75" width="36.10" height="13.20" fill="#fff" stroke="#252525" stroke-width="1.30"/>
<rect x="732.65" y="194.45" width="36.10" height="13.20" fill="#bfe4b3" stroke="#252525" stroke-width="1.30"/>
<rect x="707.45" y="255.25" width="36.10" height="13.20" fill="#fff" stroke="#252525" stroke-width="1.30"/>
<rect x="676.55" y="207.75" width="36.10" height="13.20" fill="#fff" stroke="#252525" stroke-width="1.30"/>
<rect x="612.25" y="226.05" width="36.10" height="13.20" fill="#fff" stroke="#252525" stroke-width="1.30"/>
<rect x="652.05" y="226.05" width="36.10" height="13.20" fill="#fff" stroke="#252525" stroke-width="1.30"/>
<rect x="632.05" y="285.35" width="36.10" height="13.20" fill="#fff" stroke="#252525" stroke-width="1.30"/>
<rect x="632.05" y="359.35" width="36.10" height="13.20" fill="#fff" stroke="#252525" stroke-width="1.30"/>
<rect x="752.65" y="267.65" width="36.10" height="13.20" fill="#fff" stroke="#252525" stroke-width="1.30"/>
<rect x="792.25" y="267.65" width="36.10" height="13.20" fill="#bfe4b3" stroke="#252525" stroke-width="1.30"/>
<rect x="752.65" y="282.85" width="36.10" height="13.20" fill="#fff" stroke="#252525" stroke-width="1.30"/>
<rect x="792.25" y="282.85" width="36.10" height="13.20" fill="#fff" stroke="#252525" stroke-width="1.30"/>
<rect x="752.45" y="347.55" width="36.10" height="13.20" fill="#fff" stroke="#252525" stroke-width="1.30"/>
<rect x="792.25" y="347.55" width="36.10" height="13.20" fill="#fff" stroke="#252525" stroke-width="1.30"/>
<rect x="771.65" y="363.15" width="36.10" height="13.20" fill="#fff" stroke="#252525" stroke-width="1.30"/>
<rect x="937.05" y="186.15" width="36.10" height="13.20" fill="#fff" stroke="#252525" stroke-width="1.30"/>
<rect x="841.65" y="205.75" width="36.10" height="13.20" fill="#fff" stroke="#252525" stroke-width="1.30"/>
<rect x="841.65" y="267.65" width="36.10" height="13.20" fill="#fff" stroke="#252525" stroke-width="1.30"/>
<rect x="841.85" y="347.55" width="36.10" height="13.20" fill="#fff" stroke="#252525" stroke-width="1.30"/>
<rect x="1049.85" y="186.25" width="36.10" height="13.20" fill="#fff" stroke="#252525" stroke-width="1.60"/>
<rect x="1014.55" y="205.85" width="36.10" height="13.20" fill="#fff" stroke="#252525" stroke-width="1.30"/>
<rect x="1095.25" y="205.85" width="36.10" height="13.20" fill="#fff" stroke="#252525" stroke-width="1.30"/>
<rect x="1094.75" y="347.55" width="36.10" height="13.20" fill="#fff" stroke="#252525" stroke-width="1.30"/>
<rect x="985.85" y="260.95" width="36.10" height="13.20" fill="#fff" stroke="#252525" stroke-width="1.30"/>
<rect x="1044.95" y="260.95" width="36.10" height="13.20" fill="#fff" stroke="#252525" stroke-width="1.30"/>
<rect x="1095.25" y="260.95" width="36.10" height="13.20" fill="#fff" stroke="#252525" stroke-width="1.30"/>
<rect x="1157.75" y="260.95" width="36.10" height="13.20" fill="#fff" stroke="#252525" stroke-width="1.30"/>
<rect x="934.75" y="347.55" width="36.10" height="13.20" fill="#bfe4b3" stroke="#252525" stroke-width="1.30"/>
<rect x="934.75" y="404.85" width="36.10" height="13.20" fill="#fff" stroke="#252525" stroke-width="1.30"/>
<rect x="984.85" y="347.55" width="36.10" height="13.20" fill="#fff" stroke="#252525" stroke-width="1.30"/>
<rect x="984.85" y="404.85" width="36.10" height="13.20" fill="#fff" stroke="#252525" stroke-width="1.30"/>
<polygon points="186.75,174.00 194.55,170.30 194.55,177.70" fill="#111"/>
<polygon points="122.65,174.00 130.45,170.30 130.45,177.70" fill="#111"/>
<polygon points="49.65,174.00 57.45,170.30 57.45,177.70" fill="#111"/>
<polygon points="49.65,194.40 57.45,190.70 57.45,198.10" fill="#111"/>
<polygon points="138.80,243.15 135.10,235.35 142.50,235.35" fill="#111"/>
<polygon points="183.80,243.15 180.10,235.35 187.50,235.35" fill="#111"/>
<polygon points="263.40,190.30 260.50,183.30 266.30,183.30" fill="#fff" stroke="#222" stroke-width="1.1" stroke-linejoin="miter"/>
<polygon points="307.00,153.60 304.10,160.60 309.90,160.60" fill="#fff" stroke="#222" stroke-width="1.1" stroke-linejoin="miter"/>
<polygon points="399.20,153.60 396.30,160.60 402.10,160.60" fill="#fff" stroke="#222" stroke-width="1.1" stroke-linejoin="miter"/>
<polygon points="645.15,59.60 637.35,55.90 637.35,63.30" fill="#111"/>
<polygon points="268.05,190.20 275.45,187.20 275.45,193.20" fill="#111"/>
<polygon points="495.60,145.05 491.90,152.85 499.30,152.85" fill="#111"/>
<polygon points="645.55,192.90 637.75,189.20 637.75,196.60" fill="#111"/>
<polygon points="417.00,233.75 413.30,225.95 420.70,225.95" fill="#111"/>
<polygon points="412.95,314.60 405.15,310.90 405.15,318.30" fill="#111"/>
<polygon points="267.45,315.00 275.25,311.30 275.25,318.70" fill="#111"/>
<polygon points="263.30,199.75 259.60,207.55 267.00,207.55" fill="#111"/>
<polygon points="263.30,314.55 259.60,306.75 267.00,306.75" fill="#111"/>
<polygon points="260.15,318.40 252.35,314.70 252.35,322.10" fill="#111"/>
<polygon points="130.65,319.20 138.45,315.50 138.45,322.90" fill="#111"/>
<polygon points="260.15,323.30 252.35,319.60 252.35,327.00" fill="#111"/>
<polygon points="215.50,361.55 211.80,353.75 219.20,353.75" fill="#111"/>
<polygon points="412.95,319.00 405.15,315.30 405.15,322.70" fill="#111"/>
<polygon points="267.45,323.00 275.25,319.30 275.25,326.70" fill="#111"/>
<polygon points="263.30,406.55 259.60,398.75 267.00,398.75" fill="#111"/>
<polygon points="267.45,411.10 275.25,407.40 275.25,414.80" fill="#111"/>
<polygon points="192.25,411.10 200.05,407.40 200.05,414.80" fill="#111"/>
<polygon points="121.85,411.10 129.65,407.40 129.65,414.80" fill="#111"/>
<polygon points="114.55,411.10 106.75,407.40 106.75,414.80" fill="#111"/>
<polygon points="42.45,411.10 50.25,407.40 50.25,414.80" fill="#111"/>
<polygon points="118.30,465.15 114.60,457.35 122.00,457.35" fill="#111"/>
<polygon points="118.30,524.35 114.60,516.55 122.00,516.55" fill="#111"/>
<polygon points="118.30,592.15 114.60,584.35 122.00,584.35" fill="#111"/>
<polygon points="191.35,569.50 183.55,565.80 183.55,573.20" fill="#111"/>
<polygon points="53.60,612.15 49.90,604.35 57.30,604.35" fill="#111"/>
<polygon points="114.45,596.30 106.65,592.60 106.65,600.00" fill="#111"/>
<polygon points="53.50,635.20 50.60,628.20 56.40,628.20" fill="#fff" stroke="#222" stroke-width="1.1" stroke-linejoin="miter"/>
<polygon points="117.60,635.60 114.70,628.60 120.50,628.60" fill="#fff" stroke="#222" stroke-width="1.1" stroke-linejoin="miter"/>
<polygon points="195.00,627.40 192.10,620.40 197.90,620.40" fill="#fff" stroke="#222" stroke-width="1.1" stroke-linejoin="miter"/>
<polygon points="263.30,465.55 259.60,457.75 267.00,457.75" fill="#111"/>
<polygon points="263.30,524.35 259.60,516.55 267.00,516.55" fill="#111"/>
<polygon points="263.30,592.15 259.60,584.35 267.00,584.35" fill="#111"/>
<polygon points="198.85,569.50 206.65,565.80 206.65,573.20" fill="#111"/>
<polygon points="493.95,237.80 486.15,234.10 486.15,241.50" fill="#111"/>
<polygon points="575.15,237.80 567.35,234.10 567.35,241.50" fill="#111"/>
<polygon points="465.40,263.50 458.40,260.60 458.40,266.40" fill="#fff" stroke="#222" stroke-width="1.1" stroke-linejoin="miter"/>
<polygon points="478.30,282.20 475.40,289.20 481.20,289.20" fill="#fff" stroke="#222" stroke-width="1.1" stroke-linejoin="miter"/>
<polygon points="417.00,314.15 413.30,306.35 420.70,306.35" fill="#111"/>
<polygon points="538.35,319.00 530.55,315.30 530.55,322.70" fill="#111"/>
<polygon points="585.95,319.00 578.15,315.30 578.15,322.70" fill="#111"/>
<polygon points="417.00,322.25 413.30,330.05 420.70,330.05" fill="#111"/>
<polygon points="417.00,407.35 413.30,399.55 420.70,399.55" fill="#111"/>
<polygon points="420.05,405.40 427.85,401.70 427.85,409.10" fill="#111"/>
<polygon points="413.00,414.40 410.10,421.40 415.90,421.40" fill="#fff" stroke="#222" stroke-width="1.1" stroke-linejoin="miter"/>
<polygon points="563.15,411.10 555.35,407.40 555.35,414.80" fill="#111"/>
<polygon points="417.00,483.75 413.30,475.95 420.70,475.95" fill="#111"/>
<polygon points="417.00,557.55 413.30,549.75 420.70,549.75" fill="#111"/>
<polygon points="369.50,557.55 365.80,549.75 373.20,549.75" fill="#111"/>
<polygon points="562.60,345.00 555.60,342.10 555.60,347.90" fill="#fff" stroke="#222" stroke-width="1.1" stroke-linejoin="miter"/>
<polygon points="567.00,407.15 563.30,399.35 570.70,399.35" fill="#111"/>
<polygon points="570.45,407.60 578.25,404.30 578.25,410.90" fill="#111"/>
<polygon points="855.35,411.20 847.55,407.50 847.55,414.90" fill="#111"/>
<polygon points="570.45,414.70 578.25,411.40 578.25,418.00" fill="#111"/>
<polygon points="648.60,459.30 655.60,456.40 655.60,462.20" fill="#fff" stroke="#222" stroke-width="1.1" stroke-linejoin="miter"/>
<polygon points="567.00,415.45 563.30,423.25 570.70,423.25" fill="#111"/>
<polygon points="567.00,465.55 563.30,457.75 570.70,457.75" fill="#111"/>
<polygon points="566.80,472.85 563.10,480.65 570.50,480.65" fill="#111"/>
<polygon points="566.80,531.15 563.10,523.35 570.50,523.35" fill="#111"/>
<polygon points="638.35,535.00 630.55,531.30 630.55,538.70" fill="#111"/>
<polygon points="713.35,535.00 705.55,531.30 705.55,538.70" fill="#111"/>
<polygon points="720.85,535.00 728.65,531.30 728.65,538.70" fill="#111"/>
<polygon points="794.55,535.00 786.75,531.30 786.75,538.70" fill="#111"/>
<polygon points="869.55,535.00 861.75,531.30 861.75,538.70" fill="#111"/>
<polygon points="873.50,530.95 869.80,523.15 877.20,523.15" fill="#111"/>
<polygon points="945.15,535.00 937.35,531.30 937.35,538.70" fill="#111"/>
<polygon points="1020.15,535.00 1012.35,531.30 1012.35,538.70" fill="#111"/>
<polygon points="1063.60,535.00 1056.60,532.10 1056.60,537.90" fill="#fff" stroke="#222" stroke-width="1.1" stroke-linejoin="miter"/>
<polygon points="649.20,63.65 645.50,71.45 652.90,71.45" fill="#111"/>
<polygon points="723.35,59.60 715.55,55.90 715.55,63.30" fill="#111"/>
<polygon points="815.55,59.60 807.75,55.90 807.75,63.30" fill="#111"/>
<polygon points="896.35,59.60 888.55,55.90 888.55,63.30" fill="#111"/>
<polygon points="993.55,59.60 985.75,55.90 985.75,63.30" fill="#111"/>
<polygon points="1078.35,59.60 1070.55,55.90 1070.55,63.30" fill="#111"/>
<polygon points="823.95,23.00 816.15,19.30 816.15,26.70" fill="#111"/>
<polygon points="1078.35,23.00 1070.55,19.30 1070.55,26.70" fill="#111"/>
<polygon points="652.00,187.95 649.00,180.45 655.00,180.45" fill="#111"/>
<polygon points="896.35,95.80 888.55,92.10 888.55,99.50" fill="#111"/>
<polygon points="993.55,95.80 985.75,92.10 985.75,99.50" fill="#111"/>
<polygon points="1082.00,63.85 1078.30,71.65 1085.70,71.65" fill="#111"/>
<polygon points="792.15,137.10 784.35,133.40 784.35,140.80" fill="#111"/>
<polygon points="969.75,137.10 961.95,133.40 961.95,140.80" fill="#111"/>
<polygon points="792.15,166.30 784.35,162.60 784.35,170.00" fill="#111"/>
<polygon points="969.75,166.40 961.95,162.70 961.95,170.10" fill="#111"/>
<polygon points="786.95,192.80 779.15,189.10 779.15,196.50" fill="#111"/>
<polygon points="786.95,319.00 779.15,315.30 779.15,322.70" fill="#111"/>
<polygon points="694.60,259.75 690.90,251.95 698.30,251.95" fill="#111"/>
<polygon points="653.85,328.20 661.65,324.50 661.65,331.90" fill="#111"/>
<polygon points="650.00,196.65 646.30,204.45 653.70,204.45" fill="#111"/>
<polygon points="650.00,259.75 646.30,251.95 653.70,251.95" fill="#111"/>
<polygon points="650.00,324.55 646.30,316.75 653.70,316.75" fill="#111"/>
<polygon points="650.00,392.15 646.30,384.35 653.70,384.35" fill="#111"/>
<polygon points="790.60,315.15 786.90,307.35 794.30,307.35" fill="#111"/>
<polygon points="998.15,192.80 990.35,189.10 990.35,196.50" fill="#111"/>
<polygon points="926.80,229.80 923.90,222.80 929.70,222.80" fill="#fff" stroke="#222" stroke-width="1.1" stroke-linejoin="miter"/>
<polygon points="859.50,234.15 855.80,226.35 863.20,226.35" fill="#111"/>
<polygon points="859.50,242.05 855.80,249.85 863.20,249.85" fill="#111"/>
<polygon points="859.50,315.15 855.80,307.35 863.20,307.35" fill="#111"/>
<polygon points="859.50,407.35 855.80,399.55 863.20,399.55" fill="#111"/>
<polygon points="1108.75,192.80 1100.95,189.10 1100.95,196.50" fill="#111"/>
<polygon points="1033.30,237.15 1029.60,229.35 1037.00,229.35" fill="#111"/>
<polygon points="1108.95,319.00 1101.15,315.30 1101.15,322.70" fill="#111"/>
<polygon points="1112.60,237.15 1108.90,229.35 1116.30,229.35" fill="#111"/>
<polygon points="1112.60,315.15 1108.90,307.35 1116.30,307.35" fill="#111"/>
<polygon points="1006.25,443.30 1014.05,439.60 1014.05,447.00" fill="#111"/>
<polygon points="1006.15,319.00 1013.95,315.30 1013.95,322.70" fill="#111"/>
<polygon points="1003.00,315.15 999.30,307.35 1006.70,307.35" fill="#111"/>
<polygon points="999.85,319.00 992.05,315.30 992.05,322.70" fill="#111"/>
<polygon points="952.50,378.15 948.80,370.35 956.20,370.35" fill="#111"/>
<polygon points="952.50,439.55 948.80,431.75 956.20,431.75" fill="#111"/>
<polygon points="1002.80,322.85 999.10,330.65 1006.50,330.65" fill="#111"/>
<polygon points="1002.60,378.15 998.90,370.35 1006.30,370.35" fill="#111"/>
<polygon points="1002.60,385.65 998.90,393.45 1006.30,393.45" fill="#111"/>
<polygon points="1002.60,439.55 998.90,431.75 1006.30,431.75" fill="#111"/>
<circle cx="45.90" cy="174.00" r="3.15" fill="#fff" stroke="#1a1a1a" stroke-width="1.35"/>
<circle cx="45.90" cy="194.40" r="3.15" fill="#fff" stroke="#1a1a1a" stroke-width="1.35"/>
<circle cx="119.20" cy="174.00" r="3.15" fill="#fff" stroke="#1a1a1a" stroke-width="1.35"/>
<circle cx="183.00" cy="174.00" r="3.15" fill="#fff" stroke="#1a1a1a" stroke-width="1.35"/>
<circle cx="138.80" cy="246.50" r="3.15" fill="#fff" stroke="#1a1a1a" stroke-width="1.35"/>
<circle cx="183.80" cy="246.50" r="3.15" fill="#fff" stroke="#1a1a1a" stroke-width="1.35"/>
<circle cx="495.60" cy="141.80" r="3.15" fill="#fff" stroke="#1a1a1a" stroke-width="1.35"/>
<circle cx="263.30" cy="195.40" r="3.15" fill="#fff" stroke="#1a1a1a" stroke-width="1.35"/>
<circle cx="263.30" cy="319.00" r="3.15" fill="#fff" stroke="#1a1a1a" stroke-width="1.35"/>
<circle cx="127.00" cy="319.20" r="3.15" fill="#fff" stroke="#1a1a1a" stroke-width="1.35"/>
<circle cx="215.50" cy="365.00" r="3.15" fill="#fff" stroke="#1a1a1a" stroke-width="1.35"/>
<circle cx="263.30" cy="411.10" r="3.15" fill="#fff" stroke="#1a1a1a" stroke-width="1.35"/>
<circle cx="188.80" cy="411.10" r="3.15" fill="#fff" stroke="#1a1a1a" stroke-width="1.35"/>
<circle cx="118.30" cy="411.10" r="3.15" fill="#fff" stroke="#1a1a1a" stroke-width="1.35"/>
<circle cx="38.80" cy="411.10" r="3.15" fill="#fff" stroke="#1a1a1a" stroke-width="1.35"/>
<circle cx="118.30" cy="469.30" r="3.15" fill="#fff" stroke="#1a1a1a" stroke-width="1.35"/>
<circle cx="118.30" cy="528.30" r="3.15" fill="#fff" stroke="#1a1a1a" stroke-width="1.35"/>
<circle cx="118.30" cy="596.30" r="3.15" fill="#fff" stroke="#1a1a1a" stroke-width="1.35"/>
<circle cx="195.00" cy="569.50" r="3.15" fill="#fff" stroke="#1a1a1a" stroke-width="1.35"/>
<circle cx="53.50" cy="615.70" r="3.15" fill="#fff" stroke="#1a1a1a" stroke-width="1.35"/>
<circle cx="263.30" cy="470.00" r="3.15" fill="#fff" stroke="#1a1a1a" stroke-width="1.35"/>
<circle cx="263.30" cy="528.30" r="3.15" fill="#fff" stroke="#1a1a1a" stroke-width="1.35"/>
<circle cx="263.30" cy="596.30" r="3.15" fill="#fff" stroke="#1a1a1a" stroke-width="1.35"/>
<circle cx="417.00" cy="237.80" r="3.15" fill="#fff" stroke="#1a1a1a" stroke-width="1.35"/>
<circle cx="497.50" cy="237.80" r="3.15" fill="#fff" stroke="#1a1a1a" stroke-width="1.35"/>
<circle cx="578.80" cy="237.80" r="3.15" fill="#fff" stroke="#1a1a1a" stroke-width="1.35"/>
<circle cx="417.00" cy="319.00" r="3.15" fill="#fff" stroke="#1a1a1a" stroke-width="1.35"/>
<circle cx="542.00" cy="319.00" r="3.15" fill="#fff" stroke="#1a1a1a" stroke-width="1.35"/>
<circle cx="589.50" cy="319.00" r="3.15" fill="#fff" stroke="#1a1a1a" stroke-width="1.35"/>
<circle cx="417.00" cy="411.00" r="3.15" fill="#fff" stroke="#1a1a1a" stroke-width="1.35"/>
<circle cx="417.00" cy="487.50" r="3.15" fill="#fff" stroke="#1a1a1a" stroke-width="1.35"/>
<circle cx="369.50" cy="561.30" r="3.15" fill="#fff" stroke="#1a1a1a" stroke-width="1.35"/>
<circle cx="417.00" cy="561.30" r="3.15" fill="#fff" stroke="#1a1a1a" stroke-width="1.35"/>
<circle cx="567.00" cy="345.00" r="3.15" fill="#fff" stroke="#1a1a1a" stroke-width="1.35"/>
<circle cx="567.00" cy="411.20" r="3.15" fill="#fff" stroke="#1a1a1a" stroke-width="1.35"/>
<circle cx="644.40" cy="459.30" r="3.15" fill="#fff" stroke="#1a1a1a" stroke-width="1.35"/>
<circle cx="566.80" cy="469.50" r="3.15" fill="#fff" stroke="#1a1a1a" stroke-width="1.35"/>
<circle cx="566.80" cy="535.00" r="3.15" fill="#fff" stroke="#1a1a1a" stroke-width="1.35"/>
<circle cx="642.00" cy="535.00" r="3.15" fill="#fff" stroke="#1a1a1a" stroke-width="1.35"/>
<circle cx="717.00" cy="535.00" r="3.15" fill="#fff" stroke="#1a1a1a" stroke-width="1.35"/>
<circle cx="798.20" cy="535.00" r="3.15" fill="#fff" stroke="#1a1a1a" stroke-width="1.35"/>
<circle cx="873.30" cy="535.00" r="3.15" fill="#fff" stroke="#1a1a1a" stroke-width="1.35"/>
<circle cx="948.70" cy="535.00" r="3.15" fill="#fff" stroke="#1a1a1a" stroke-width="1.35"/>
<circle cx="1023.70" cy="535.00" r="3.15" fill="#fff" stroke="#1a1a1a" stroke-width="1.35"/>
<circle cx="649.30" cy="59.60" r="3.15" fill="#fff" stroke="#1a1a1a" stroke-width="1.35"/>
<circle cx="727.00" cy="59.60" r="3.15" fill="#fff" stroke="#1a1a1a" stroke-width="1.35"/>
<circle cx="819.30" cy="59.60" r="3.15" fill="#fff" stroke="#1a1a1a" stroke-width="1.35"/>
<circle cx="900.00" cy="59.60" r="3.15" fill="#fff" stroke="#1a1a1a" stroke-width="1.35"/>
<circle cx="997.30" cy="59.60" r="3.15" fill="#fff" stroke="#1a1a1a" stroke-width="1.35"/>
<circle cx="1082.00" cy="59.60" r="3.15" fill="#fff" stroke="#1a1a1a" stroke-width="1.35"/>
<circle cx="827.50" cy="23.00" r="3.15" fill="#fff" stroke="#1a1a1a" stroke-width="1.35"/>
<circle cx="1082.00" cy="23.00" r="3.15" fill="#fff" stroke="#1a1a1a" stroke-width="1.35"/>
<circle cx="900.00" cy="95.80" r="3.15" fill="#fff" stroke="#1a1a1a" stroke-width="1.35"/>
<circle cx="997.30" cy="95.80" r="3.15" fill="#fff" stroke="#1a1a1a" stroke-width="1.35"/>
<circle cx="795.80" cy="137.10" r="3.15" fill="#fff" stroke="#1a1a1a" stroke-width="1.35"/>
<circle cx="973.30" cy="137.10" r="3.15" fill="#fff" stroke="#1a1a1a" stroke-width="1.35"/>
<circle cx="795.60" cy="166.30" r="3.15" fill="#fff" stroke="#1a1a1a" stroke-width="1.35"/>
<circle cx="973.30" cy="166.40" r="3.15" fill="#fff" stroke="#1a1a1a" stroke-width="1.35"/>
<circle cx="694.60" cy="263.50" r="3.15" fill="#fff" stroke="#1a1a1a" stroke-width="1.35"/>
<circle cx="650.00" cy="263.50" r="3.15" fill="#fff" stroke="#1a1a1a" stroke-width="1.35"/>
<circle cx="650.00" cy="328.20" r="3.15" fill="#fff" stroke="#1a1a1a" stroke-width="1.35"/>
<circle cx="650.00" cy="395.80" r="3.15" fill="#fff" stroke="#1a1a1a" stroke-width="1.35"/>
<circle cx="650.00" cy="192.80" r="3.15" fill="#fff" stroke="#1a1a1a" stroke-width="1.35"/>
<circle cx="790.60" cy="319.00" r="3.15" fill="#fff" stroke="#1a1a1a" stroke-width="1.35"/>
<circle cx="859.50" cy="238.10" r="3.15" fill="#fff" stroke="#1a1a1a" stroke-width="1.35"/>
<circle cx="859.50" cy="319.00" r="3.15" fill="#fff" stroke="#1a1a1a" stroke-width="1.35"/>
<circle cx="859.50" cy="411.20" r="3.15" fill="#fff" stroke="#1a1a1a" stroke-width="1.35"/>
<circle cx="790.60" cy="192.80" r="3.15" fill="#fff" stroke="#1a1a1a" stroke-width="1.35"/>
<circle cx="1033.30" cy="241.00" r="3.15" fill="#fff" stroke="#1a1a1a" stroke-width="1.35"/>
<circle cx="1112.60" cy="241.00" r="3.15" fill="#fff" stroke="#1a1a1a" stroke-width="1.35"/>
<circle cx="1112.60" cy="319.00" r="3.15" fill="#fff" stroke="#1a1a1a" stroke-width="1.35"/>
<circle cx="1003.00" cy="319.00" r="3.15" fill="#fff" stroke="#1a1a1a" stroke-width="1.35"/>
<circle cx="952.50" cy="382.00" r="3.15" fill="#fff" stroke="#1a1a1a" stroke-width="1.35"/>
<circle cx="952.50" cy="443.30" r="3.15" fill="#fff" stroke="#1a1a1a" stroke-width="1.35"/>
<circle cx="1002.60" cy="382.00" r="3.15" fill="#fff" stroke="#1a1a1a" stroke-width="1.35"/>
<circle cx="1002.60" cy="443.30" r="3.15" fill="#fff" stroke="#1a1a1a" stroke-width="1.35"/>
<circle cx="1003.00" cy="192.80" r="3.15" fill="#fff" stroke="#1a1a1a" stroke-width="1.35"/>
<circle cx="1112.60" cy="192.80" r="3.15" fill="#fff" stroke="#1a1a1a" stroke-width="1.35"/>
<defs><filter id="nf" x="0" y="0" width="100%" height="100%" filterUnits="userSpaceOnUse" primitiveUnits="userSpaceOnUse"><feOffset dx="0" dy="0"/></filter></defs><g filter="url(#nf)">
<text x="37.00" y="33.90" font-size="13.20" textLength="132.50" lengthAdjust="spacingAndGlyphs" style="stroke-width:0.18px">TYROSINE&#160;&#160;METABOLISM</text>
<text x="72.36" y="177.50" font-size="10.80" textLength="30.19" lengthAdjust="spacingAndGlyphs" style="stroke-width:0.32px">1.11.1.8</text>
<text x="139.36" y="177.50" font-size="10.80" textLength="30.19" lengthAdjust="spacingAndGlyphs" style="stroke-width:0.32px">1.11.1.8</text>
<text x="211.66" y="176.80" font-size="10.80" textLength="30.19" lengthAdjust="spacingAndGlyphs" style="stroke-width:0.32px">1.11.1.8</text>
<text x="72.56" y="197.50" font-size="10.80" textLength="30.19" lengthAdjust="spacingAndGlyphs" style="stroke-width:0.32px">1.11.1.8</text>
<text x="17.00" y="164.60" font-size="10.00" textLength="48.00" lengthAdjust="spacingAndGlyphs">L-Thyroxine</text>
<text x="106.20" y="156.70" font-size="10.00" textLength="43.00" lengthAdjust="spacingAndGlyphs">3,5-Diiodo-</text>
<text x="106.20" y="165.40" font-size="10.00" textLength="38.30" lengthAdjust="spacingAndGlyphs">L-tyrosine</text>
<text x="173.00" y="156.70" font-size="10.00" textLength="27.00" lengthAdjust="spacingAndGlyphs">3-Iodo-</text>
<text x="173.00" y="165.40" font-size="10.00" textLength="38.20" lengthAdjust="spacingAndGlyphs">L-tyrosine</text>
<text x="21.20" y="212.10" font-size="10.00" textLength="62.00" lengthAdjust="spacingAndGlyphs">Triiodothyronine</text>
<text x="222.50" y="207.90" font-size="10.00" textLength="30.70" lengthAdjust="spacingAndGlyphs">Tyrosine</text>
<text x="125.23" y="219.10" font-size="10.80" textLength="25.84" lengthAdjust="spacingAndGlyphs" style="stroke-width:0.32px">5.4.3.6</text>
<text x="168.78" y="219.10" font-size="10.80" textLength="30.54" lengthAdjust="spacingAndGlyphs" style="stroke-width:0.32px">4.3.1.23</text>
<text x="70.00" y="251.70" font-size="10.00" textLength="32.50" lengthAdjust="spacingAndGlyphs">3-Amino-</text>
<text x="70.00" y="260.90" font-size="10.00" textLength="82.00" lengthAdjust="spacingAndGlyphs">3-(4-hydroxyphenyl)-</text>
<text x="70.00" y="269.70" font-size="10.00" textLength="40.80" lengthAdjust="spacingAndGlyphs">propanoate</text>
<text x="161.20" y="262.70" font-size="10.00" textLength="48.80" lengthAdjust="spacingAndGlyphs">4-Coumarate</text>
<text x="212.00" y="86.60" font-size="10.00" textLength="105.50" lengthAdjust="spacingAndGlyphs">Phenylalanine, tyrosine and</text>
<text x="212.00" y="95.20" font-size="10.00" textLength="87.50" lengthAdjust="spacingAndGlyphs">ryptophan biosynthesis</text>
<text x="274.20" y="139.20" font-size="10.00" textLength="64.60" lengthAdjust="spacingAndGlyphs">Phenylpropanoid</text>
<text x="274.20" y="148.30" font-size="10.00" textLength="47.00" lengthAdjust="spacingAndGlyphs">biosynthesis</text>
<text x="356.20" y="139.20" font-size="10.00" textLength="80.80" lengthAdjust="spacingAndGlyphs">Isoquinoline alkaloid</text>
<text x="356.20" y="148.30" font-size="10.00" textLength="47.60" lengthAdjust="spacingAndGlyphs">biosynthesis</text>
<text x="411.35" y="98.10" font-size="10.80" textLength="33.40" lengthAdjust="spacingAndGlyphs" style="stroke-width:0.32px">1.14.18.1</text>
<text x="452.48" y="98.10" font-size="10.80" textLength="30.54" lengthAdjust="spacingAndGlyphs" style="stroke-width:0.32px">1.10.3.1</text>
<text x="480.58" y="172.00" font-size="10.80" textLength="30.54" lengthAdjust="spacingAndGlyphs" style="stroke-width:0.32px">4.1.99.2</text>
<text x="483.00" y="133.40" font-size="10.00" textLength="26.00" lengthAdjust="spacingAndGlyphs">Phenol</text>
<text x="538.18" y="188.30" font-size="10.80" textLength="30.54" lengthAdjust="spacingAndGlyphs" style="stroke-width:0.32px">1.10.3.1</text>
<text x="574.75" y="188.30" font-size="10.80" textLength="33.40" lengthAdjust="spacingAndGlyphs" style="stroke-width:0.32px">1.14.18.1</text>
<text x="536.75" y="205.10" font-size="10.80" textLength="33.40" lengthAdjust="spacingAndGlyphs" style="stroke-width:0.32px">1.14.16.2</text>
<text x="576.36" y="205.10" font-size="10.80" textLength="30.19" lengthAdjust="spacingAndGlyphs" style="stroke-width:0.32px">1.11.2.6</text>
<text x="382.48" y="216.50" font-size="10.80" textLength="30.54" lengthAdjust="spacingAndGlyphs" style="stroke-width:0.32px">4.1.1.25</text>
<text x="421.98" y="216.50" font-size="10.80" textLength="30.54" lengthAdjust="spacingAndGlyphs" style="stroke-width:0.32px">4.1.1.28</text>
<text x="340.05" y="265.20" font-size="10.80" textLength="33.40" lengthAdjust="spacingAndGlyphs" style="stroke-width:0.32px">4.1.1.108</text>
<text x="293.83" y="286.30" font-size="10.80" textLength="25.84" lengthAdjust="spacingAndGlyphs" style="stroke-width:0.32px">1.4.3.2</text>
<text x="230.53" y="237.00" font-size="10.80" textLength="25.84" lengthAdjust="spacingAndGlyphs" style="stroke-width:0.32px">2.6.1.1</text>
<text x="270.33" y="237.00" font-size="10.80" textLength="25.84" lengthAdjust="spacingAndGlyphs" style="stroke-width:0.32px">2.6.1.5</text>
<text x="230.53" y="252.25" font-size="10.80" textLength="25.84" lengthAdjust="spacingAndGlyphs" style="stroke-width:0.32px">2.6.1.9</text>
<text x="267.98" y="252.25" font-size="10.80" textLength="30.54" lengthAdjust="spacingAndGlyphs" style="stroke-width:0.32px">2.6.1.57</text>
<text x="228.18" y="267.50" font-size="10.80" textLength="30.54" lengthAdjust="spacingAndGlyphs" style="stroke-width:0.32px">2.6.1.58</text>
<text x="267.98" y="267.50" font-size="10.80" textLength="30.54" lengthAdjust="spacingAndGlyphs" style="stroke-width:0.32px">1.4.1.20</text>
<text x="153.55" y="314.00" font-size="10.80" textLength="33.40" lengthAdjust="spacingAndGlyphs" style="stroke-width:0.32px">1.1.1.110</text>
<text x="153.55" y="331.60" font-size="10.80" textLength="33.40" lengthAdjust="spacingAndGlyphs" style="stroke-width:0.32px">1.1.1.237</text>
<text x="196.80" y="305.20" font-size="10.00" textLength="43.70" lengthAdjust="spacingAndGlyphs">4-Hydroxy-</text>
<text x="196.80" y="314.50" font-size="10.00" textLength="57.70" lengthAdjust="spacingAndGlyphs">phenylpyruvate</text>
<text x="45.00" y="322.70" font-size="10.00" textLength="71.80" lengthAdjust="spacingAndGlyphs">(R)-3-(4-Hydroxy-</text>
<text x="45.00" y="331.40" font-size="10.00" textLength="54.20" lengthAdjust="spacingAndGlyphs">phenyl)lactate</text>
<text x="202.53" y="346.40" font-size="10.80" textLength="25.84" lengthAdjust="spacingAndGlyphs" style="stroke-width:0.32px">5.3.2.1</text>
<text x="110.80" y="367.20" font-size="10.00" textLength="98.00" lengthAdjust="spacingAndGlyphs">2-Hydroxy-3-(4-hydroxy-</text>
<text x="110.80" y="375.90" font-size="10.00" textLength="70.40" lengthAdjust="spacingAndGlyphs">phenyl)propenoate</text>
<text x="316.98" y="322.40" font-size="10.80" textLength="30.54" lengthAdjust="spacingAndGlyphs" style="stroke-width:0.32px">4.1.1.80</text>
<text x="290.38" y="366.60" font-size="10.80" textLength="30.54" lengthAdjust="spacingAndGlyphs" style="stroke-width:0.32px">1.2.3.13</text>
<text x="246.45" y="366.60" font-size="10.80" textLength="33.40" lengthAdjust="spacingAndGlyphs" style="stroke-width:0.32px">1.13.11.27</text>
<text x="269.50" y="405.50" font-size="10.00" textLength="56.00" lengthAdjust="spacingAndGlyphs">Homogentisate</text>
<text x="336.75" y="414.60" font-size="10.80" textLength="33.40" lengthAdjust="spacingAndGlyphs" style="stroke-width:0.32px">1.14.13.18</text>
<text x="224.61" y="406.50" font-size="10.80" textLength="24.27" lengthAdjust="spacingAndGlyphs" style="stroke-width:0.32px">4.1.1.-</text>
<text x="220.05" y="422.80" font-size="10.80" textLength="33.40" lengthAdjust="spacingAndGlyphs" style="stroke-width:0.32px">1.13.12.-</text>
<text x="140.18" y="406.50" font-size="10.80" textLength="30.54" lengthAdjust="spacingAndGlyphs" style="stroke-width:0.32px">1.2.1.29</text>
<text x="142.53" y="422.80" font-size="10.80" textLength="25.84" lengthAdjust="spacingAndGlyphs" style="stroke-width:0.32px">1.2.3.1</text>
<text x="64.48" y="415.40" font-size="10.80" textLength="30.54" lengthAdjust="spacingAndGlyphs" style="stroke-width:0.32px">4.1.1.62</text>
<text x="98.00" y="403.90" font-size="10.00" textLength="35.00" lengthAdjust="spacingAndGlyphs">Gentisate</text>
<text x="19.20" y="429.60" font-size="10.00" textLength="53.80" lengthAdjust="spacingAndGlyphs">Hydroquinone</text>
<text x="175.80" y="424.20" font-size="10.00" textLength="38.40" lengthAdjust="spacingAndGlyphs">Gentisate-</text>
<text x="175.80" y="433.30" font-size="10.00" textLength="33.70" lengthAdjust="spacingAndGlyphs">aldehyde</text>
<text x="101.75" y="442.10" font-size="10.80" textLength="33.40" lengthAdjust="spacingAndGlyphs" style="stroke-width:0.32px">1.13.11.4</text>
<text x="123.80" y="469.60" font-size="10.00" textLength="35.00" lengthAdjust="spacingAndGlyphs">3-Maleyl-</text>
<text x="123.80" y="478.40" font-size="10.00" textLength="32.40" lengthAdjust="spacingAndGlyphs">pyruvate</text>
<text x="106.13" y="497.10" font-size="10.80" textLength="25.84" lengthAdjust="spacingAndGlyphs" style="stroke-width:0.32px">5.2.1.4</text>
<text x="128.00" y="525.90" font-size="10.00" textLength="43.20" lengthAdjust="spacingAndGlyphs">3-Fumaryl-</text>
<text x="128.00" y="535.10" font-size="10.00" textLength="32.00" lengthAdjust="spacingAndGlyphs">pyruvate</text>
<text x="85.53" y="552.40" font-size="10.80" textLength="25.84" lengthAdjust="spacingAndGlyphs" style="stroke-width:0.32px">3.7.1.5</text>
<text x="123.18" y="552.40" font-size="10.80" textLength="30.54" lengthAdjust="spacingAndGlyphs" style="stroke-width:0.32px">3.7.1.20</text>
<text x="126.80" y="600.90" font-size="10.00" textLength="32.40" lengthAdjust="spacingAndGlyphs">Pyruvate</text>
<text x="177.50" y="561.60" font-size="10.00" textLength="35.00" lengthAdjust="spacingAndGlyphs">Fumarate</text>
<text x="38.18" y="552.40" font-size="10.80" textLength="30.54" lengthAdjust="spacingAndGlyphs" style="stroke-width:0.32px">3.7.1.23</text>
<text x="62.30" y="619.90" font-size="10.00" textLength="28.40" lengthAdjust="spacingAndGlyphs">Maleate</text>
<text x="31.70" y="649.90" font-size="10.00" textLength="37.60" lengthAdjust="spacingAndGlyphs">Butanoate</text>
<text x="31.70" y="659.10" font-size="10.00" textLength="43.30" lengthAdjust="spacingAndGlyphs">metabolism</text>
<text x="96.70" y="651.50" font-size="10.00" textLength="31.60" lengthAdjust="spacingAndGlyphs">Pyruvate</text>
<text x="96.70" y="659.90" font-size="10.00" textLength="43.30" lengthAdjust="spacingAndGlyphs">metabolism</text>
<text x="170.70" y="643.90" font-size="10.00" textLength="47.60" lengthAdjust="spacingAndGlyphs">Citrate cycle</text>
<text x="246.45" y="442.10" font-size="10.80" textLength="33.40" lengthAdjust="spacingAndGlyphs" style="stroke-width:0.32px">1.13.11.5</text>
<text x="210.80" y="465.90" font-size="10.00" textLength="36.70" lengthAdjust="spacingAndGlyphs">4-Maleyl-</text>
<text x="210.80" y="474.60" font-size="10.00" textLength="45.00" lengthAdjust="spacingAndGlyphs">acetoacetate</text>
<text x="250.23" y="497.10" font-size="10.80" textLength="25.84" lengthAdjust="spacingAndGlyphs" style="stroke-width:0.32px">5.2.1.2</text>
<text x="208.80" y="524.60" font-size="10.00" textLength="43.20" lengthAdjust="spacingAndGlyphs">4-Fumaryl-</text>
<text x="208.80" y="533.90" font-size="10.00" textLength="45.70" lengthAdjust="spacingAndGlyphs">acetoacetate</text>
<text x="250.23" y="552.40" font-size="10.80" textLength="25.84" lengthAdjust="spacingAndGlyphs" style="stroke-width:0.32px">3.7.1.2</text>
<text x="240.80" y="612.10" font-size="10.00" textLength="48.40" lengthAdjust="spacingAndGlyphs">Acetoacetate</text>
<text x="8.50" y="683.90" font-size="11.00" textLength="49.50" lengthAdjust="spacingAndGlyphs">00350 9/1/21</text>
<text x="8.50" y="692.40" font-size="10.00" textLength="99.00" lengthAdjust="spacingAndGlyphs">(c) Kanehisa Laboratories</text>
<text x="376.20" y="248.90" font-size="10.00" textLength="33.80" lengthAdjust="spacingAndGlyphs">Tyramine</text>
<text x="437.48" y="241.50" font-size="10.80" textLength="30.54" lengthAdjust="spacingAndGlyphs" style="stroke-width:0.32px">2.1.1.27</text>
<text x="520.81" y="242.50" font-size="10.80" textLength="24.27" lengthAdjust="spacingAndGlyphs" style="stroke-width:0.32px">2.1.1.-</text>
<text x="477.50" y="224.30" font-size="10.00" textLength="38.70" lengthAdjust="spacingAndGlyphs">N-Methyl-</text>
<text x="477.50" y="231.90" font-size="10.00" textLength="31.30" lengthAdjust="spacingAndGlyphs">tyramine</text>
<text x="560.00" y="229.70" font-size="10.00" textLength="38.20" lengthAdjust="spacingAndGlyphs">Hordenine</text>
<text x="473.80" y="267.60" font-size="10.00" textLength="46.70" lengthAdjust="spacingAndGlyphs">Isoquinoline</text>
<text x="473.80" y="276.10" font-size="10.00" textLength="79.20" lengthAdjust="spacingAndGlyphs">alkaloid biosynthesis</text>
<text x="384.83" y="277.60" font-size="10.80" textLength="25.84" lengthAdjust="spacingAndGlyphs" style="stroke-width:0.32px">1.4.3.4</text>
<text x="421.98" y="277.60" font-size="10.80" textLength="30.54" lengthAdjust="spacingAndGlyphs" style="stroke-width:0.32px">1.4.3.21</text>
<text x="384.83" y="292.80" font-size="10.80" textLength="25.84" lengthAdjust="spacingAndGlyphs" style="stroke-width:0.32px">1.4.9.2</text>
<text x="425.11" y="292.80" font-size="10.80" textLength="24.27" lengthAdjust="spacingAndGlyphs" style="stroke-width:0.32px">1.4.3.-</text>
<text x="363.80" y="331.00" font-size="10.00" textLength="44.20" lengthAdjust="spacingAndGlyphs">4-Hydroxy-</text>
<text x="333.80" y="340.10" font-size="10.00" textLength="74.40" lengthAdjust="spacingAndGlyphs">phenylacetaldehyde</text>
<text x="486.38" y="322.80" font-size="10.80" textLength="30.54" lengthAdjust="spacingAndGlyphs" style="stroke-width:0.32px">1.1.1.90</text>
<text x="529.50" y="301.10" font-size="10.00" textLength="43.70" lengthAdjust="spacingAndGlyphs">4-Hydroxy-</text>
<text x="529.50" y="309.40" font-size="10.00" textLength="53.00" lengthAdjust="spacingAndGlyphs">phenylethanol</text>
<text x="598.70" y="321.90" font-size="10.00" textLength="42.30" lengthAdjust="spacingAndGlyphs">Salidroside</text>
<text x="384.83" y="357.50" font-size="10.80" textLength="25.84" lengthAdjust="spacingAndGlyphs" style="stroke-width:0.32px">1.2.1.5</text>
<text x="421.98" y="357.50" font-size="10.80" textLength="30.54" lengthAdjust="spacingAndGlyphs" style="stroke-width:0.32px">1.2.1.29</text>
<text x="401.98" y="373.10" font-size="10.80" textLength="30.54" lengthAdjust="spacingAndGlyphs" style="stroke-width:0.32px">1.2.1.39</text>
<text x="444.48" y="373.10" font-size="10.80" textLength="30.54" lengthAdjust="spacingAndGlyphs" style="stroke-width:0.32px">1.2.1.53</text>
<text x="420.50" y="422.10" font-size="10.00" textLength="43.70" lengthAdjust="spacingAndGlyphs">4-Hydroxy-</text>
<text x="420.50" y="431.30" font-size="10.00" textLength="50.70" lengthAdjust="spacingAndGlyphs">phenylacetate</text>
<text x="315.50" y="438.40" font-size="10.00" textLength="52.50" lengthAdjust="spacingAndGlyphs">Phenylalanine</text>
<text x="315.50" y="447.10" font-size="10.00" textLength="43.30" lengthAdjust="spacingAndGlyphs">metabolism</text>
<text x="478.15" y="414.60" font-size="10.80" textLength="33.40" lengthAdjust="spacingAndGlyphs" style="stroke-width:0.32px">1.14.14.9</text>
<text x="405.11" y="456.80" font-size="10.80" textLength="24.27" lengthAdjust="spacingAndGlyphs" style="stroke-width:0.32px">6.2.1.-</text>
<text x="340.80" y="474.10" font-size="10.00" textLength="44.20" lengthAdjust="spacingAndGlyphs">4-Hydroxy-</text>
<text x="340.80" y="482.90" font-size="10.00" textLength="68.70" lengthAdjust="spacingAndGlyphs">phenylacetyl-CoA</text>
<text x="357.11" y="521.70" font-size="10.80" textLength="24.27" lengthAdjust="spacingAndGlyphs" style="stroke-width:0.32px">2.3.1.-</text>
<text x="401.98" y="521.70" font-size="10.80" textLength="30.54" lengthAdjust="spacingAndGlyphs" style="stroke-width:0.32px">2.3.1.14</text>
<text x="317.00" y="578.40" font-size="10.00" textLength="68.80" lengthAdjust="spacingAndGlyphs">4-Hydroxyphenyl-</text>
<text x="317.00" y="587.10" font-size="10.00" textLength="49.20" lengthAdjust="spacingAndGlyphs">acetylglycine</text>
<text x="394.50" y="578.40" font-size="10.00" textLength="68.70" lengthAdjust="spacingAndGlyphs">4-Hydroxyphenyl-</text>
<text x="394.50" y="587.10" font-size="10.00" textLength="73.50" lengthAdjust="spacingAndGlyphs">acetylglutamic acid</text>
<text x="482.00" y="344.60" font-size="10.00" textLength="53.00" lengthAdjust="spacingAndGlyphs">Phenylalanine</text>
<text x="482.00" y="353.90" font-size="10.00" textLength="44.20" lengthAdjust="spacingAndGlyphs">metabolism</text>
<text x="575.00" y="345.90" font-size="10.00" textLength="43.80" lengthAdjust="spacingAndGlyphs">3-Hydroxy-</text>
<text x="575.00" y="354.10" font-size="10.00" textLength="52.00" lengthAdjust="spacingAndGlyphs">phenylacetate</text>
<text x="550.55" y="375.00" font-size="10.80" textLength="33.40" lengthAdjust="spacingAndGlyphs" style="stroke-width:0.32px">1.14.14.9</text>
<text x="572.50" y="392.10" font-size="10.00" textLength="56.30" lengthAdjust="spacingAndGlyphs">3,4-Dihydroxy-</text>
<text x="572.50" y="400.90" font-size="10.00" textLength="50.70" lengthAdjust="spacingAndGlyphs">phenylacetate</text>
<text x="803.13" y="414.80" font-size="10.80" textLength="25.84" lengthAdjust="spacingAndGlyphs" style="stroke-width:0.32px">2.1.1.6</text>
<text x="628.05" y="439.30" font-size="10.80" textLength="33.40" lengthAdjust="spacingAndGlyphs" style="stroke-width:0.32px">1.14.12.9</text>
<text x="697.00" y="459.60" font-size="10.00" textLength="26.20" lengthAdjust="spacingAndGlyphs">Dioxin</text>
<text x="697.00" y="467.90" font-size="10.00" textLength="45.00" lengthAdjust="spacingAndGlyphs">degradation</text>
<text x="627.30" y="475.40" font-size="10.00" textLength="36.20" lengthAdjust="spacingAndGlyphs">4-Chloro-</text>
<text x="627.30" y="484.90" font-size="10.00" textLength="52.00" lengthAdjust="spacingAndGlyphs">phenylacetate</text>
<text x="550.55" y="441.50" font-size="10.80" textLength="33.40" lengthAdjust="spacingAndGlyphs" style="stroke-width:0.32px">1.13.11.15</text>
<text x="472.50" y="467.60" font-size="10.00" textLength="85.00" lengthAdjust="spacingAndGlyphs">2-Hydroxy-5-carboxy-</text>
<text x="472.50" y="476.40" font-size="10.00" textLength="62.50" lengthAdjust="spacingAndGlyphs">methylmuconate</text>
<text x="472.50" y="485.20" font-size="10.00" textLength="51.30" lengthAdjust="spacingAndGlyphs">semialdehyde</text>
<text x="531.88" y="506.50" font-size="10.80" textLength="30.54" lengthAdjust="spacingAndGlyphs" style="stroke-width:0.32px">1.2.1.60</text>
<text x="570.05" y="506.50" font-size="10.80" textLength="33.40" lengthAdjust="spacingAndGlyphs" style="stroke-width:0.32px">1.1.1.312</text>
<text x="534.30" y="554.40" font-size="10.00" textLength="69.00" lengthAdjust="spacingAndGlyphs">5-Carboxymethyl-</text>
<text x="534.30" y="563.10" font-size="10.00" textLength="75.00" lengthAdjust="spacingAndGlyphs">2-hydroxymuconate</text>
<text x="583.68" y="538.50" font-size="10.80" textLength="30.54" lengthAdjust="spacingAndGlyphs" style="stroke-width:0.32px">5.3.3.10</text>
<text x="615.00" y="517.30" font-size="10.00" textLength="84.20" lengthAdjust="spacingAndGlyphs">5-Carboxy-2-oxohept-</text>
<text x="615.00" y="525.90" font-size="10.00" textLength="43.60" lengthAdjust="spacingAndGlyphs">3-enedioate</text>
<text x="658.68" y="538.50" font-size="10.80" textLength="30.54" lengthAdjust="spacingAndGlyphs" style="stroke-width:0.32px">4.1.1.68</text>
<text x="680.40" y="554.40" font-size="10.00" textLength="64.60" lengthAdjust="spacingAndGlyphs">2-Hydroxyhepta-</text>
<text x="680.40" y="563.10" font-size="10.00" textLength="58.10" lengthAdjust="spacingAndGlyphs">2,4-dienedioate</text>
<text x="747.23" y="537.70" font-size="10.80" textLength="22.44" lengthAdjust="spacingAndGlyphs" style="stroke-width:0.32px">HpaG</text>
<text x="772.00" y="552.90" font-size="10.00" textLength="41.20" lengthAdjust="spacingAndGlyphs">2-Oxohept-</text>
<text x="772.00" y="561.70" font-size="10.00" textLength="43.80" lengthAdjust="spacingAndGlyphs">3-enedioate</text>
<text x="822.83" y="538.50" font-size="10.80" textLength="22.44" lengthAdjust="spacingAndGlyphs" style="stroke-width:0.32px">HpaH</text>
<text x="781.73" y="509.20" font-size="10.80" textLength="22.44" lengthAdjust="spacingAndGlyphs" style="stroke-width:0.32px">HpaH</text>
<text x="844.60" y="554.40" font-size="10.00" textLength="75.70" lengthAdjust="spacingAndGlyphs">2,4-Dihydroxyhept-</text>
<text x="844.60" y="563.10" font-size="10.00" textLength="44.10" lengthAdjust="spacingAndGlyphs">2-enedioate</text>
<text x="899.56" y="537.80" font-size="10.80" textLength="18.78" lengthAdjust="spacingAndGlyphs" style="stroke-width:0.32px">HpaI</text>
<text x="930.30" y="515.60" font-size="10.00" textLength="36.00" lengthAdjust="spacingAndGlyphs">Succinate</text>
<text x="930.30" y="523.90" font-size="10.00" textLength="51.70" lengthAdjust="spacingAndGlyphs">semialdehyde</text>
<text x="966.98" y="538.50" font-size="10.80" textLength="30.54" lengthAdjust="spacingAndGlyphs" style="stroke-width:0.32px">1.2.1.16</text>
<text x="1007.70" y="550.60" font-size="10.00" textLength="36.00" lengthAdjust="spacingAndGlyphs">Succinate</text>
<text x="1072.00" y="539.20" font-size="10.00" textLength="48.30" lengthAdjust="spacingAndGlyphs">Citrate cycle</text>
<text x="612.95" y="98.10" font-size="10.80" textLength="33.40" lengthAdjust="spacingAndGlyphs" style="stroke-width:0.32px">1.14.18.1</text>
<text x="654.08" y="98.10" font-size="10.80" textLength="30.54" lengthAdjust="spacingAndGlyphs" style="stroke-width:0.32px">1.10.3.1</text>
<text x="930.35" y="63.20" font-size="10.80" textLength="33.40" lengthAdjust="spacingAndGlyphs" style="stroke-width:0.32px">1.14.18.1</text>
<text x="594.50" y="53.40" font-size="10.00" textLength="49.30" lengthAdjust="spacingAndGlyphs">Dopaquinone</text>
<text x="681.20" y="50.40" font-size="10.00" textLength="72.60" lengthAdjust="spacingAndGlyphs">Leucodopaquinone</text>
<text x="795.80" y="53.40" font-size="10.00" textLength="48.40" lengthAdjust="spacingAndGlyphs">Dopachrome</text>
<text x="867.00" y="73.40" font-size="10.00" textLength="58.30" lengthAdjust="spacingAndGlyphs">5,6-Dihydroxy-</text>
<text x="867.00" y="81.40" font-size="10.00" textLength="23.00" lengthAdjust="spacingAndGlyphs">indole</text>
<text x="969.50" y="53.40" font-size="10.00" textLength="73.30" lengthAdjust="spacingAndGlyphs">Indole-5,6-quinone</text>
<text x="1089.00" y="64.60" font-size="10.00" textLength="41.20" lengthAdjust="spacingAndGlyphs">Eumelanin</text>
<text x="794.20" y="15.90" font-size="10.00" textLength="63.80" lengthAdjust="spacingAndGlyphs">Cysteinyl-DOPA</text>
<text x="1089.00" y="26.70" font-size="10.00" textLength="49.20" lengthAdjust="spacingAndGlyphs">Pheomelanin</text>
<text x="866.00" y="44.10" font-size="10.00" textLength="80.30" lengthAdjust="spacingAndGlyphs">Melanin biosynthesis</text>
<text x="839.48" y="99.70" font-size="10.80" textLength="30.54" lengthAdjust="spacingAndGlyphs" style="stroke-width:0.32px">5.3.3.12</text>
<text x="932.69" y="99.60" font-size="10.80" textLength="28.72" lengthAdjust="spacingAndGlyphs" style="stroke-width:0.32px">TYRP1</text>
<text x="887.50" y="111.60" font-size="10.00" textLength="28.70" lengthAdjust="spacingAndGlyphs">DHICA</text>
<text x="981.00" y="111.60" font-size="10.00" textLength="37.50" lengthAdjust="spacingAndGlyphs">5,6-IQCA</text>
<text x="710.55" y="140.90" font-size="10.80" textLength="33.40" lengthAdjust="spacingAndGlyphs" style="stroke-width:0.32px">1.13.11.29</text>
<text x="710.55" y="170.30" font-size="10.80" textLength="33.40" lengthAdjust="spacingAndGlyphs" style="stroke-width:0.32px">1.13.11.30</text>
<text x="876.95" y="140.90" font-size="10.80" textLength="33.40" lengthAdjust="spacingAndGlyphs" style="stroke-width:0.32px">1.13.11.29</text>
<text x="877.25" y="171.10" font-size="10.80" textLength="33.40" lengthAdjust="spacingAndGlyphs" style="stroke-width:0.32px">1.13.11.30</text>
<text x="750.00" y="120.90" font-size="10.00" textLength="112.00" lengthAdjust="spacingAndGlyphs">4-(L-Alanin-3-yl)-2-hydroxy-</text>
<text x="750.00" y="130.10" font-size="10.00" textLength="125.00" lengthAdjust="spacingAndGlyphs">cis,cis-muconate 6-semialdehyde</text>
<text x="750.00" y="151.60" font-size="10.00" textLength="112.00" lengthAdjust="spacingAndGlyphs">5-(L-Alanin-3-yl)-2-hydroxy-</text>
<text x="750.00" y="160.40" font-size="10.00" textLength="125.00" lengthAdjust="spacingAndGlyphs">cis,cis-muconate 6-semialdehyde</text>
<text x="979.50" y="142.10" font-size="10.00" textLength="42.50" lengthAdjust="spacingAndGlyphs">Stizolobate</text>
<text x="979.50" y="171.60" font-size="10.00" textLength="49.50" lengthAdjust="spacingAndGlyphs">Stizolobinate</text>
<text x="659.20" y="190.10" font-size="10.00" textLength="33.40" lengthAdjust="spacingAndGlyphs">L-DOPA</text>
<text x="735.58" y="187.70" font-size="10.80" textLength="30.54" lengthAdjust="spacingAndGlyphs" style="stroke-width:0.32px">4.1.1.25</text>
<text x="735.58" y="204.40" font-size="10.80" textLength="30.54" lengthAdjust="spacingAndGlyphs" style="stroke-width:0.32px">4.1.1.28</text>
<text x="708.95" y="265.20" font-size="10.80" textLength="33.40" lengthAdjust="spacingAndGlyphs" style="stroke-width:0.32px">4.1.1.107</text>
<text x="679.48" y="217.70" font-size="10.80" textLength="30.54" lengthAdjust="spacingAndGlyphs" style="stroke-width:0.32px">4.3.1.22</text>
<text x="675.00" y="284.90" font-size="10.00" textLength="55.80" lengthAdjust="spacingAndGlyphs">3,4-Dihydroxy-</text>
<text x="675.00" y="293.60" font-size="10.00" textLength="67.50" lengthAdjust="spacingAndGlyphs">phenylpropanoate</text>
<text x="615.18" y="236.00" font-size="10.80" textLength="30.54" lengthAdjust="spacingAndGlyphs" style="stroke-width:0.32px">2.6.1.49</text>
<text x="653.55" y="236.00" font-size="10.80" textLength="33.40" lengthAdjust="spacingAndGlyphs" style="stroke-width:0.32px">1.13.12.15</text>
<text x="571.70" y="260.90" font-size="10.00" textLength="68.30" lengthAdjust="spacingAndGlyphs">3-(3,4-Dihydroxy-</text>
<text x="571.70" y="269.10" font-size="10.00" textLength="60.90" lengthAdjust="spacingAndGlyphs">phenyl)pyruvate</text>
<text x="633.55" y="295.30" font-size="10.80" textLength="33.40" lengthAdjust="spacingAndGlyphs" style="stroke-width:0.32px">1.1.1.237</text>
<text x="655.00" y="343.90" font-size="10.00" textLength="68.80" lengthAdjust="spacingAndGlyphs">3-(3,4-Dihydroxy-</text>
<text x="655.00" y="351.50" font-size="10.00" textLength="52.50" lengthAdjust="spacingAndGlyphs">phenyl)lactate</text>
<text x="633.55" y="369.30" font-size="10.80" textLength="33.40" lengthAdjust="spacingAndGlyphs" style="stroke-width:0.32px">2.3.1.140</text>
<text x="655.50" y="402.10" font-size="10.00" textLength="47.70" lengthAdjust="spacingAndGlyphs">Rosmarinate</text>
<text x="781.70" y="185.30" font-size="10.00" textLength="38.70" lengthAdjust="spacingAndGlyphs">Dopamine</text>
<text x="757.93" y="277.60" font-size="10.80" textLength="25.84" lengthAdjust="spacingAndGlyphs" style="stroke-width:0.32px">1.4.3.4</text>
<text x="795.18" y="277.60" font-size="10.80" textLength="30.54" lengthAdjust="spacingAndGlyphs" style="stroke-width:0.32px">1.4.3.21</text>
<text x="757.93" y="292.80" font-size="10.80" textLength="25.84" lengthAdjust="spacingAndGlyphs" style="stroke-width:0.32px">1.4.9.2</text>
<text x="798.31" y="292.80" font-size="10.80" textLength="24.27" lengthAdjust="spacingAndGlyphs" style="stroke-width:0.32px">1.4.3.-</text>
<text x="795.50" y="314.40" font-size="10.00" textLength="57.70" lengthAdjust="spacingAndGlyphs">3,4-Dihydroxy-</text>
<text x="795.50" y="322.60" font-size="10.00" textLength="43.30" lengthAdjust="spacingAndGlyphs">phenylacet-</text>
<text x="795.50" y="331.10" font-size="10.00" textLength="33.30" lengthAdjust="spacingAndGlyphs">aldehyde</text>
<text x="757.73" y="357.50" font-size="10.80" textLength="25.84" lengthAdjust="spacingAndGlyphs" style="stroke-width:0.32px">1.2.1.5</text>
<text x="795.18" y="357.50" font-size="10.80" textLength="30.54" lengthAdjust="spacingAndGlyphs" style="stroke-width:0.32px">1.2.1.29</text>
<text x="774.58" y="373.10" font-size="10.80" textLength="30.54" lengthAdjust="spacingAndGlyphs" style="stroke-width:0.32px">1.2.1.39</text>
<text x="938.55" y="196.10" font-size="10.80" textLength="33.40" lengthAdjust="spacingAndGlyphs" style="stroke-width:0.32px">1.14.17.1</text>
<text x="895.30" y="244.50" font-size="10.00" textLength="47.40" lengthAdjust="spacingAndGlyphs">Isoquinoline</text>
<text x="895.30" y="252.90" font-size="10.00" textLength="79.00" lengthAdjust="spacingAndGlyphs">alkaloid biosynthesis</text>
<text x="846.93" y="215.70" font-size="10.80" textLength="25.84" lengthAdjust="spacingAndGlyphs" style="stroke-width:0.32px">2.1.1.6</text>
<text x="808.20" y="233.50" font-size="10.00" textLength="44.40" lengthAdjust="spacingAndGlyphs">3-Methoxy-</text>
<text x="808.20" y="241.90" font-size="10.00" textLength="32.80" lengthAdjust="spacingAndGlyphs">tyramine</text>
<text x="846.93" y="277.60" font-size="10.80" textLength="25.84" lengthAdjust="spacingAndGlyphs" style="stroke-width:0.32px">1.4.3.4</text>
<text x="866.20" y="314.40" font-size="10.00" textLength="43.80" lengthAdjust="spacingAndGlyphs">3-Methoxy-</text>
<text x="866.20" y="322.60" font-size="10.00" textLength="68.80" lengthAdjust="spacingAndGlyphs">4-hydroxyphenyl-</text>
<text x="866.20" y="331.10" font-size="10.00" textLength="49.80" lengthAdjust="spacingAndGlyphs">acetaldehyde</text>
<text x="847.13" y="357.50" font-size="10.80" textLength="25.84" lengthAdjust="spacingAndGlyphs" style="stroke-width:0.32px">1.2.1.5</text>
<text x="840.00" y="427.10" font-size="10.00" textLength="56.20" lengthAdjust="spacingAndGlyphs">Homovanillate</text>
<text x="976.80" y="185.60" font-size="10.00" textLength="62.00" lengthAdjust="spacingAndGlyphs">L-Noradrenaline</text>
<text x="1097.50" y="186.90" font-size="10.00" textLength="49.50" lengthAdjust="spacingAndGlyphs">L-Adrenaline</text>
<text x="1052.78" y="196.20" font-size="10.80" textLength="30.54" lengthAdjust="spacingAndGlyphs" style="stroke-width:0.32px">2.1.1.28</text>
<text x="1019.83" y="215.80" font-size="10.80" textLength="25.84" lengthAdjust="spacingAndGlyphs" style="stroke-width:0.32px">2.1.1.6</text>
<text x="1041.20" y="231.40" font-size="10.00" textLength="25.80" lengthAdjust="spacingAndGlyphs">L-Nor-</text>
<text x="1041.20" y="239.50" font-size="10.00" textLength="51.30" lengthAdjust="spacingAndGlyphs">metanephrine</text>
<text x="1100.53" y="215.80" font-size="10.80" textLength="25.84" lengthAdjust="spacingAndGlyphs" style="stroke-width:0.32px">2.1.1.6</text>
<text x="1121.20" y="244.50" font-size="10.00" textLength="60.60" lengthAdjust="spacingAndGlyphs">L-Metanephrine</text>
<text x="1119.30" y="316.90" font-size="10.00" textLength="83.70" lengthAdjust="spacingAndGlyphs">3-Methoxy-4-hydroxy-</text>
<text x="1119.30" y="325.20" font-size="10.00" textLength="82.50" lengthAdjust="spacingAndGlyphs">phenylglycolaldehyde</text>
<text x="1100.03" y="357.50" font-size="10.80" textLength="25.84" lengthAdjust="spacingAndGlyphs" style="stroke-width:0.32px">1.2.1.5</text>
<text x="991.13" y="270.90" font-size="10.80" textLength="25.84" lengthAdjust="spacingAndGlyphs" style="stroke-width:0.32px">1.4.3.4</text>
<text x="1050.23" y="270.90" font-size="10.80" textLength="25.84" lengthAdjust="spacingAndGlyphs" style="stroke-width:0.32px">1.4.3.4</text>
<text x="1100.53" y="270.90" font-size="10.80" textLength="25.84" lengthAdjust="spacingAndGlyphs" style="stroke-width:0.32px">1.4.3.4</text>
<text x="1163.03" y="270.90" font-size="10.80" textLength="25.84" lengthAdjust="spacingAndGlyphs" style="stroke-width:0.32px">1.4.3.4</text>
<text x="935.00" y="303.10" font-size="10.00" textLength="58.80" lengthAdjust="spacingAndGlyphs">3,4-Dihydroxy-</text>
<text x="935.00" y="311.20" font-size="10.00" textLength="61.20" lengthAdjust="spacingAndGlyphs">mandelaldehyde</text>
<text x="940.03" y="357.50" font-size="10.80" textLength="25.84" lengthAdjust="spacingAndGlyphs" style="stroke-width:0.32px">1.1.1.1</text>
<text x="887.50" y="382.10" font-size="10.00" textLength="58.70" lengthAdjust="spacingAndGlyphs">3,4-Dihydroxy-</text>
<text x="887.50" y="390.90" font-size="10.00" textLength="47.50" lengthAdjust="spacingAndGlyphs">phenylethyl-</text>
<text x="887.50" y="399.20" font-size="10.00" textLength="37.00" lengthAdjust="spacingAndGlyphs">eneglycol</text>
<text x="940.03" y="414.80" font-size="10.80" textLength="25.84" lengthAdjust="spacingAndGlyphs" style="stroke-width:0.32px">2.1.1.6</text>
<text x="892.00" y="459.60" font-size="10.00" textLength="87.50" lengthAdjust="spacingAndGlyphs">3-Methoxy-4-hydroxy-</text>
<text x="892.00" y="468.40" font-size="10.00" textLength="81.80" lengthAdjust="spacingAndGlyphs">phenylethyleneglycol</text>
<text x="990.13" y="357.50" font-size="10.80" textLength="25.84" lengthAdjust="spacingAndGlyphs" style="stroke-width:0.32px">1.2.1.5</text>
<text x="1010.50" y="382.10" font-size="10.00" textLength="58.70" lengthAdjust="spacingAndGlyphs">3,4-Dihydroxy-</text>
<text x="1010.50" y="390.90" font-size="10.00" textLength="39.00" lengthAdjust="spacingAndGlyphs">mandelate</text>
<text x="990.13" y="414.80" font-size="10.80" textLength="25.84" lengthAdjust="spacingAndGlyphs" style="stroke-width:0.32px">2.1.1.6</text>
<text x="993.80" y="459.60" font-size="10.00" textLength="43.70" lengthAdjust="spacingAndGlyphs">3-Methoxy-</text>
<text x="993.80" y="468.40" font-size="10.00" textLength="78.00" lengthAdjust="spacingAndGlyphs">4-hydroxymandelate</text>
</g>
</svg></body></html>
